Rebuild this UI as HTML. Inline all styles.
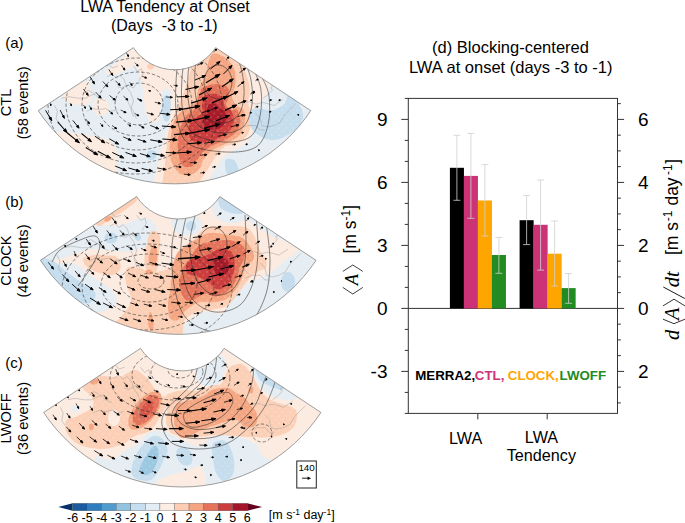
<!DOCTYPE html><html><head><meta charset="utf-8"><style>html,body{margin:0;padding:0;background:#fff;width:685px;height:523px;overflow:hidden}svg{display:block}</style></head><body>
<svg width="685" height="523" viewBox="0 0 685 523" font-family="Liberation Sans, sans-serif">
<defs>
<clipPath id="fc0"><path d="M133.39,47.66 A49.30,49.30 0 0 0 215.61,47.66 L310.76,110.64 A163.40,163.40 0 0 1 38.24,110.64 Z"/></clipPath>
<clipPath id="fc1"><path d="M136.62,196.62 A49.86,49.86 0 0 0 219.78,196.62 L316.01,260.31 A165.26,165.26 0 0 1 40.39,260.31 Z"/></clipPath>
<clipPath id="fc2"><path d="M140.47,348.39 A50.17,50.17 0 0 0 224.13,348.39 L320.96,412.47 A166.28,166.28 0 0 1 43.64,412.47 Z"/></clipPath>
<pattern id="dots" width="7.2" height="7.2" patternUnits="userSpaceOnUse"><circle cx="1.8" cy="1.8" r="0.55" fill="#fff"/><circle cx="5.4" cy="5.4" r="0.55" fill="#fff"/></pattern>
<filter id="bl05" x="-5%" y="-5%" width="110%" height="110%"><feGaussianBlur stdDeviation="0.5"/></filter>
<filter id="bl1" x="-20%" y="-20%" width="140%" height="140%"><feGaussianBlur stdDeviation="1.2"/></filter>
<filter id="bl3" x="-30%" y="-30%" width="160%" height="160%"><feGaussianBlur stdDeviation="3"/></filter>
<marker id="ah" viewBox="0 0 10 10" refX="8" refY="5" markerWidth="3.2" markerHeight="3.2" orient="auto" markerUnits="strokeWidth"><path d="M0,1 L10,5 L0,9 Z" fill="#000"/></marker>
</defs>
<text x="165" y="11.7" font-size="16" text-anchor="middle">LWA Tendency at Onset</text>
<text x="164.3" y="30.7" font-size="16" text-anchor="middle" xml:space="preserve">(Days  -3 to -1)</text>
<text x="5.2" y="47.9" font-size="15">(a)</text>
<text x="5.2" y="207.2" font-size="15">(b)</text>
<text x="5.2" y="367.7" font-size="15">(c)</text>
<text transform="translate(11.2,102.4) rotate(-90)" font-size="14.6" text-anchor="middle">CTL</text>
<text transform="translate(28.2,102.85) rotate(-90)" font-size="14.6" text-anchor="middle">(58 events)</text>
<text transform="translate(11.2,260.6) rotate(-90)" font-size="14.6" text-anchor="middle">CLOCK</text>
<text transform="translate(28.2,261) rotate(-90)" font-size="14.6" text-anchor="middle">(46 events)</text>
<text transform="translate(11.2,418.4) rotate(-90)" font-size="14.6" text-anchor="middle">LWOFF</text>
<text transform="translate(28.2,418.5) rotate(-90)" font-size="14.6" text-anchor="middle">(36 events)</text>
<g clip-path="url(#fc0)">
<rect x="0" y="0" width="400" height="523" fill="#e6eef3"/>
<g filter="url(#bl05)">
<path d="M61.8,94.8 C62.6,93.0 66.8,91.3 69.4,89.6 C72.0,87.8 74.5,85.7 77.5,84.3 C80.5,82.9 85.5,80.4 87.6,81.0 C89.6,81.6 89.1,84.6 89.8,87.8 C90.5,91.0 92.3,97.1 91.5,100.0 C90.7,102.9 87.1,104.2 85.0,105.0 C82.9,105.8 81.4,105.1 79.0,104.9 C76.6,104.7 72.9,104.4 70.5,103.6 C68.1,102.8 66.2,101.6 64.7,100.1 C63.2,98.6 61.0,96.5 61.8,94.8Z" fill="#fcebe1"/>
<path d="M93.3,101.8 C94.5,99.5 99.7,98.3 102.0,98.3 C104.3,98.3 106.1,99.8 107.3,101.8 C108.5,103.8 109.9,108.3 109.0,110.6 C108.1,112.9 104.3,115.5 102.0,115.8 C99.7,116.1 96.5,114.6 95.0,112.3 C93.5,110.0 92.1,104.1 93.3,101.8Z" fill="#fcebe1"/>
<path d="M106.0,72.0 C106.5,70.0 112.5,66.2 116.0,63.0 C119.5,59.8 124.0,56.2 127.0,53.0 C130.0,49.8 131.7,44.5 134.0,44.0 C136.3,43.5 140.0,47.0 141.0,50.0 C142.0,53.0 141.8,58.8 140.0,61.7 C138.2,64.6 133.5,65.8 130.5,67.5 C127.5,69.2 124.7,70.7 121.8,71.9 C118.9,73.2 115.6,75.0 113.0,75.0 C110.4,75.0 105.5,74.0 106.0,72.0Z" fill="#fcebe1"/>
<path d="M56.0,132.0 C56.8,130.8 59.0,132.2 63.0,132.5 C67.0,132.8 73.8,133.2 80.0,134.0 C86.2,134.8 95.0,136.3 100.0,137.5 C105.0,138.7 107.3,138.9 110.0,141.0 C112.7,143.1 114.8,146.5 116.0,150.0 C117.2,153.5 117.5,157.7 117.5,162.0 C117.5,166.3 117.2,171.0 116.0,176.0 C114.8,181.0 114.3,189.3 110.0,192.0 C105.7,194.7 96.7,197.3 90.0,192.0 C83.3,186.7 75.3,168.7 70.0,160.0 C64.7,151.3 60.3,144.7 58.0,140.0 C55.7,135.3 55.2,133.2 56.0,132.0Z" fill="#fcebe1"/>
<path d="M133.0,40.0 C140.8,37.2 164.7,38.0 180.0,38.0 C195.3,38.0 210.7,33.3 225.0,40.0 C239.3,46.7 258.8,69.3 266.0,78.0 C273.2,86.7 268.7,88.3 268.0,92.0 C267.3,95.7 263.9,97.0 262.0,100.0 C260.1,103.0 257.6,105.7 256.4,110.0 C255.2,114.3 255.8,121.2 254.7,126.0 C253.6,130.8 252.3,135.4 249.9,138.9 C247.5,142.4 243.5,144.8 240.3,146.9 C237.1,149.1 233.6,149.9 230.7,151.8 C227.8,153.7 225.0,155.5 222.6,158.2 C220.2,160.9 218.3,164.6 216.2,167.8 C214.1,171.0 211.7,173.7 209.8,177.4 C207.9,181.1 213.8,187.9 205.0,190.0 C196.2,192.1 164.5,195.8 157.0,190.0 C149.5,184.2 159.0,163.0 160.0,155.0 C161.0,147.0 161.9,146.9 163.2,142.1 C164.5,137.3 166.9,131.3 168.0,126.0 C169.1,120.7 169.1,115.7 169.6,110.0 C170.1,104.3 172.1,95.3 171.0,92.0 C169.9,88.7 164.8,87.0 163.0,90.0 C161.2,93.0 160.8,104.8 160.0,110.0 C159.2,115.2 159.3,119.0 158.0,121.0 C156.7,123.0 154.0,123.2 152.0,122.0 C150.0,120.8 147.3,117.7 146.0,114.0 C144.7,110.3 144.7,104.8 144.0,100.0 C143.3,95.2 143.0,90.0 142.0,85.0 C141.0,80.0 139.5,75.0 138.0,70.0 C136.5,65.0 133.8,60.0 133.0,55.0 C132.2,50.0 125.2,42.8 133.0,40.0Z" fill="#fcebe1"/>
<path d="M185.0,40.0 C189.2,39.0 208.3,41.7 215.4,44.0 C222.5,46.3 223.2,50.4 227.4,53.6 C231.6,56.8 237.1,59.5 240.3,63.3 C243.5,67.0 245.1,71.5 246.7,76.1 C248.3,80.6 249.7,86.3 249.9,90.6 C250.1,94.9 248.0,98.6 248.0,101.8 C248.0,105.0 249.4,106.5 250.0,110.0 C250.6,113.5 252.1,118.5 251.5,122.8 C250.9,127.1 249.4,132.2 246.7,135.7 C244.0,139.2 239.2,141.8 235.5,143.7 C231.8,145.6 227.7,144.5 224.2,146.9 C220.7,149.3 217.5,154.2 214.6,158.2 C211.7,162.2 209.0,167.2 206.6,171.0 C204.2,174.8 202.5,177.5 200.1,180.7 C197.7,183.9 198.0,188.4 192.1,190.0 C186.2,191.6 169.4,194.0 164.8,190.0 C160.2,186.0 164.5,172.8 164.8,166.2 C165.1,159.5 165.9,155.5 166.4,150.1 C166.9,144.7 167.1,139.0 168.0,134.0 C168.9,129.0 170.5,124.3 172.0,120.0 C173.5,115.7 175.2,112.2 177.0,108.0 C178.8,103.8 181.2,99.7 183.0,95.0 C184.8,90.3 186.7,84.8 188.0,80.0 C189.3,75.2 190.7,71.0 191.0,66.0 C191.3,61.0 191.0,54.3 190.0,50.0 C189.0,45.7 180.8,41.0 185.0,40.0Z" fill="#fcd0b6"/>
<path d="M211.4,55.0 C214.6,51.8 220.4,54.8 224.2,57.0 C227.9,59.2 232.0,63.6 233.9,68.1 C235.8,72.6 235.8,79.3 235.5,84.1 C235.2,88.9 231.8,93.3 232.0,97.0 C232.2,100.7 235.1,103.8 237.0,106.0 C238.9,108.2 242.2,107.7 243.5,110.0 C244.8,112.3 245.6,115.6 245.1,119.6 C244.6,123.6 243.0,130.3 240.3,134.1 C237.6,137.8 233.6,139.4 229.0,142.1 C224.4,144.8 217.3,147.1 213.0,150.1 C208.7,153.1 205.6,156.9 203.4,159.8 C201.2,162.8 202.0,165.4 200.1,167.8 C198.2,170.2 195.3,173.1 192.1,174.2 C188.9,175.3 184.1,175.8 180.9,174.2 C177.7,172.6 174.7,168.6 172.8,164.6 C170.9,160.6 169.6,156.5 169.6,150.1 C169.6,143.7 171.4,131.9 172.8,126.0 C174.2,120.1 175.5,117.8 178.0,114.8 C180.5,111.8 185.1,110.2 188.0,108.0 C190.9,105.8 193.6,105.0 195.3,101.8 C197.1,98.6 196.9,93.3 198.5,89.0 C200.1,84.7 202.8,81.8 205.0,76.1 C207.2,70.4 208.2,58.2 211.4,55.0Z" fill="#f5a683"/>
<path d="M203.4,87.4 C206.1,86.1 212.2,84.1 216.2,84.1 C220.2,84.1 225.3,85.2 227.4,87.4 C229.5,89.6 229.2,94.1 229.0,97.0 C228.8,99.9 225.5,102.8 226.0,105.0 C226.5,107.2 230.2,109.2 232.0,110.0 C233.8,110.8 235.7,107.9 237.1,110.0 C238.5,112.1 240.6,119.0 240.3,122.8 C240.0,126.5 238.2,129.6 235.5,132.5 C232.8,135.4 227.9,138.4 224.2,140.5 C220.4,142.6 216.5,143.4 213.0,145.3 C209.5,147.2 205.8,149.7 203.4,151.8 C201.0,154.0 200.4,155.8 198.5,158.2 C196.6,160.6 194.5,164.9 192.1,166.2 C189.7,167.5 186.2,167.5 184.1,166.2 C182.0,164.9 180.4,162.2 179.3,158.2 C178.2,154.2 177.4,147.5 177.7,142.1 C178.0,136.7 179.6,130.3 180.9,126.0 C182.2,121.7 183.5,119.1 185.7,116.4 C187.9,113.7 192.1,112.4 194.0,110.0 C195.9,107.6 196.0,104.8 197.0,101.8 C198.0,98.8 199.0,94.6 200.1,92.2 C201.2,89.8 200.7,88.8 203.4,87.4Z" fill="#e3735a"/>
<path d="M205.0,95.4 C207.1,94.6 213.3,93.3 216.2,93.8 C219.1,94.3 221.3,96.7 222.6,98.6 C223.9,100.5 223.5,103.1 224.2,105.0 C224.9,106.9 225.9,109.2 227.0,110.0 C228.1,110.8 229.5,108.4 230.7,110.0 C231.8,111.6 233.9,116.4 233.9,119.6 C233.9,122.8 232.6,126.6 230.7,129.3 C228.8,132.0 225.5,133.8 222.6,135.7 C219.7,137.6 216.2,139.4 213.0,140.5 C209.8,141.6 206.9,142.1 203.4,142.1 C199.9,142.1 194.5,141.8 192.1,140.5 C189.7,139.2 189.4,136.5 188.9,134.1 C188.4,131.7 188.4,128.4 188.9,126.0 C189.4,123.6 189.9,121.7 192.1,119.6 C194.2,117.5 200.2,115.6 201.8,113.2 C203.5,110.8 201.7,107.4 202.0,105.0 C202.3,102.6 202.9,100.2 203.4,98.6 C203.9,97.0 202.9,96.2 205.0,95.4Z" fill="#cc3d3e"/>
<path d="M154.0,66.5 C154.0,66.9 153.9,67.3 153.7,67.6 C153.6,68.0 153.3,68.4 153.0,68.6 C152.7,68.9 152.3,69.1 151.8,69.3 C151.4,69.4 150.9,69.5 150.5,69.5 C150.1,69.5 149.6,69.4 149.2,69.3 C148.7,69.1 148.3,68.9 148.0,68.6 C147.7,68.4 147.4,68.0 147.3,67.6 C147.1,67.3 147.0,66.9 147.0,66.5 C147.0,66.1 147.1,65.7 147.3,65.4 C147.4,65.0 147.7,64.6 148.0,64.4 C148.3,64.1 148.7,63.9 149.2,63.7 C149.6,63.6 150.1,63.5 150.5,63.5 C150.9,63.5 151.4,63.6 151.8,63.7 C152.3,63.9 152.7,64.1 153.0,64.4 C153.3,64.6 153.6,65.0 153.7,65.4 C153.9,65.7 154.0,66.1 154.0,66.5Z" fill="#fcd0b6"/>
<path d="M208.2,105.0 C209.5,103.6 212.7,102.9 214.6,103.4 C216.5,103.9 217.8,106.9 219.4,108.2 C221.0,109.5 223.1,109.1 224.2,111.0 C225.3,112.9 226.3,116.8 225.8,119.6 C225.3,122.4 223.7,126.1 221.0,127.7 C218.3,129.3 212.7,129.8 209.8,129.3 C206.9,128.8 204.5,126.4 203.4,124.5 C202.3,122.6 202.8,120.1 203.4,118.0 C204.0,115.9 206.2,114.2 207.0,112.0 C207.8,109.8 206.9,106.4 208.2,105.0Z" fill="#a81a2c"/>
<path d="M163.0,98.0 C163.8,96.5 165.8,94.7 167.0,95.0 C168.2,95.3 169.9,97.2 170.5,100.0 C171.1,102.8 170.8,108.7 170.5,112.0 C170.2,115.3 169.9,118.5 169.0,120.0 C168.1,121.5 166.1,122.0 165.0,121.0 C163.9,120.0 162.9,116.8 162.5,114.0 C162.1,111.2 162.4,106.7 162.5,104.0 C162.6,101.3 162.2,99.5 163.0,98.0Z" fill="#c6ddee"/>
<path d="M147.0,153.0 C147.7,151.7 149.5,150.2 151.0,150.0 C152.5,149.8 155.2,150.8 156.0,152.0 C156.8,153.2 156.7,155.7 156.0,157.0 C155.3,158.3 153.5,159.8 152.0,160.0 C150.5,160.2 147.8,159.2 147.0,158.0 C146.2,156.8 146.3,154.3 147.0,153.0Z" fill="#c6ddee"/>
<path d="M249.6,112.9 C250.6,110.5 251.5,109.1 255.3,108.6 C259.1,108.1 267.8,110.8 272.6,110.1 C277.4,109.4 281.4,106.7 284.0,104.3 C286.6,101.9 285.9,95.9 288.3,95.7 C290.7,95.5 295.9,99.1 298.4,102.9 C300.8,106.7 304.2,113.7 303.0,118.7 C301.8,123.7 296.3,129.4 291.2,133.0 C286.1,136.6 278.6,140.2 272.6,140.2 C266.6,140.2 259.1,135.9 255.3,133.0 C251.5,130.1 250.6,126.3 249.6,123.0 C248.6,119.7 248.6,115.3 249.6,112.9Z" fill="#c6ddee"/>
<path d="M225.8,159.8 C226.8,158.5 229.4,158.7 231.0,159.0 C232.6,159.3 234.2,159.4 235.5,161.4 C236.8,163.4 239.0,168.6 238.7,171.0 C238.4,173.4 235.8,175.3 233.9,175.8 C232.0,176.3 228.9,175.7 227.4,174.2 C225.9,172.7 225.3,169.4 225.0,167.0 C224.7,164.6 224.8,161.1 225.8,159.8Z" fill="#c6ddee"/>
</g>
<g fill="none" stroke="#9a9a9a" stroke-width="0.45" stroke-linejoin="round">
<path d="M243.4,102.5 L249.5,101.8 L255.6,104.1 L263.2,102.5 L269.4,104.1 L274.0,105.6 L278.5,102.5 L283.1,99.5"/>
<path d="M263.2,98.0 L267.8,94.9 L272.4,90.3 L270.9,87.2 L275.5,84.2 L279.0,86.0 L283.0,83.0"/>
<path d="M255.6,113.2 L260.2,117.8 L261.7,125.5 L267.8,127.0 L274.0,125.5 L280.1,122.4 L284.7,114.8 L289.2,110.2 L295.4,104.1"/>
<path d="M240.3,128.5 L247.9,125.5 L255.6,125.5 L260.2,130.1 L264.8,130.1"/>
<path d="M82.7,94.1 L88.0,90.1 L94.7,94.1 L98.7,98.2 L105.4,100.8"/>
<path d="M106.8,76.8 L112.1,74.1 L116.1,78.1 L120.1,75.4 L124.1,79.4 L126.8,87.5 L130.8,92.8 L133.5,100.8 L130.8,108.9 L133.5,116.9"/>
<path d="M133.5,66.1 L137.5,71.4 L141.5,68.7 L142.9,74.1 L138.9,80.8"/>
<path d="M61.9,98.2 L69.2,96.7 L78.0,98.2 L85.3,98.2 L91.1,95.3 L95.5,93.8"/>
<path d="M54.6,105.5 L57.5,111.3 L56.1,118.6 L59.0,123.0"/>
<path d="M86.7,111.3 L92.6,108.4 L98.4,109.9 L105.7,108.4 L110.1,111.3 L117.4,109.9"/>
<path d="M117.4,86.5 L121.8,88.0 L127.6,85.0 L133.4,88.0 L136.4,83.6"/>
<path d="M127.6,101.1 L130.5,106.9 L133.4,111.3 L136.4,118.6"/>
<path d="M100.0,62.0 L104.0,66.0 L109.0,64.0 L112.0,68.0 L118.0,66.0"/>
<path d="M145.0,58.0 L150.0,62.0 L156.0,60.0 L160.0,65.0"/>
<path d="M232.0,118.0 L236.0,122.0 L240.0,120.0 L244.0,124.0"/>
</g>
<g fill="url(#dots)" opacity="0.75">
<path d="M172.0,45.0 C175.0,42.0 182.7,42.2 190.0,42.0 C197.3,41.8 209.3,41.3 216.0,44.0 C222.7,46.7 225.8,54.3 230.0,58.0 C234.2,61.7 238.2,62.3 241.0,66.0 C243.8,69.7 245.5,74.8 247.0,80.0 C248.5,85.2 250.2,91.7 250.0,97.0 C249.8,102.3 246.7,105.0 246.0,112.0 C245.3,119.0 247.7,133.7 246.0,139.0 C244.3,144.3 240.6,141.5 236.0,144.0 C231.4,146.5 223.3,150.0 218.5,154.0 C213.7,158.0 210.6,164.0 207.0,168.0 C203.4,172.0 199.8,174.0 197.0,178.0 C194.2,182.0 195.2,189.7 190.0,192.0 C184.8,194.3 170.0,195.7 166.0,192.0 C162.0,188.3 165.3,177.0 166.0,170.0 C166.7,163.0 168.8,155.8 170.0,150.0 C171.2,144.2 172.3,140.0 173.0,135.0 C173.7,130.0 173.8,125.8 174.0,120.0 C174.2,114.2 174.1,106.7 174.0,100.0 C173.9,93.3 173.8,86.7 173.5,80.0 C173.2,73.3 172.2,65.8 172.0,60.0 C171.8,54.2 169.0,48.0 172.0,45.0Z"/>
<path d="M249.6,108.0 C250.8,104.8 251.5,104.3 255.3,104.0 C259.1,103.7 267.8,106.7 272.6,106.0 C277.4,105.3 281.4,102.3 284.0,100.0 C286.6,97.7 285.6,92.0 288.3,92.0 C291.0,92.0 297.2,95.5 300.0,100.0 C302.8,104.5 306.5,112.7 305.0,118.7 C303.5,124.7 296.6,131.9 291.2,136.0 C285.8,140.1 278.6,143.0 272.6,143.0 C266.6,143.0 259.4,139.3 255.3,136.0 C251.2,132.7 248.9,127.7 248.0,123.0 C247.1,118.3 248.4,111.2 249.6,108.0Z"/>
</g>
<g fill="none" stroke="#2a2a2a" stroke-width="0.55">
<path d="M163.0,104.0 C163.0,106.2 162.6,108.4 161.8,110.5 C161.1,112.5 159.9,114.6 158.4,116.3 C157.0,118.1 155.1,119.7 153.1,121.0 C151.1,122.3 148.8,123.3 146.4,124.0 C144.1,124.6 141.5,125.0 139.0,125.0 C136.5,125.0 133.9,124.6 131.6,124.0 C129.2,123.3 126.9,122.3 124.9,121.0 C122.9,119.7 121.0,118.1 119.6,116.3 C118.1,114.6 116.9,112.5 116.2,110.5 C115.4,108.4 115.0,106.2 115.0,104.0 C115.0,101.8 115.4,99.6 116.2,97.5 C116.9,95.5 118.1,93.4 119.6,91.7 C121.0,89.9 122.9,88.3 124.9,87.0 C126.9,85.7 129.2,84.7 131.6,84.0 C133.9,83.4 136.5,83.0 139.0,83.0 C141.5,83.0 144.1,83.4 146.4,84.0 C148.8,84.7 151.1,85.7 153.1,87.0 C155.1,88.3 157.0,89.9 158.4,91.7 C159.9,93.4 161.1,95.5 161.8,97.5 C162.6,99.6 163.0,101.8 163.0,104.0Z" stroke-dasharray="3.4,2"/>
<path d="M178.0,104.0 C178.0,106.8 177.5,109.6 176.6,112.3 C175.7,114.9 174.4,117.6 172.6,120.0 C170.9,122.4 168.7,124.7 166.3,126.6 C163.8,128.6 161.0,130.3 158.0,131.7 C155.0,133.1 151.7,134.2 148.4,134.9 C145.0,135.6 141.5,136.0 138.0,136.0 C134.5,136.0 131.0,135.6 127.6,134.9 C124.3,134.2 121.0,133.1 118.0,131.7 C115.0,130.3 112.2,128.6 109.7,126.6 C107.3,124.7 105.1,122.4 103.4,120.0 C101.6,117.6 100.3,114.9 99.4,112.3 C98.5,109.6 98.0,106.8 98.0,104.0 C98.0,101.2 98.5,98.4 99.4,95.7 C100.3,93.1 101.6,90.4 103.4,88.0 C105.1,85.6 107.3,83.3 109.7,81.4 C112.2,79.4 115.0,77.7 118.0,76.3 C121.0,74.9 124.3,73.8 127.6,73.1 C131.0,72.4 134.5,72.0 138.0,72.0 C141.5,72.0 145.0,72.4 148.4,73.1 C151.7,73.8 155.0,74.9 158.0,76.3 C161.0,77.7 163.8,79.4 166.3,81.4 C168.7,83.3 170.9,85.6 172.6,88.0 C174.4,90.4 175.7,93.1 176.6,95.7 C177.5,98.4 178.0,101.2 178.0,104.0Z" stroke-dasharray="3.4,2"/>
<path d="M192.0,104.0 C192.0,107.4 191.5,110.9 190.6,114.2 C189.7,117.6 188.3,120.9 186.6,124.0 C184.8,127.0 182.5,130.0 180.0,132.7 C177.5,135.3 174.5,137.8 171.3,140.0 C168.1,142.1 164.5,144.0 160.9,145.4 C157.2,146.9 153.2,148.1 149.2,148.8 C145.3,149.6 141.1,150.0 137.0,150.0 C132.9,150.0 128.7,149.6 124.8,148.8 C120.8,148.1 116.8,146.9 113.1,145.4 C109.5,144.0 105.9,142.1 102.7,140.0 C99.5,137.8 96.5,135.3 94.0,132.7 C91.5,130.0 89.2,127.0 87.4,124.0 C85.7,120.9 84.3,117.6 83.4,114.2 C82.5,110.9 82.0,107.4 82.0,104.0 C82.0,100.6 82.5,97.1 83.4,93.8 C84.3,90.4 85.7,87.1 87.4,84.0 C89.2,81.0 91.5,78.0 94.0,75.3 C96.5,72.7 99.5,70.2 102.7,68.0 C105.9,65.9 109.5,64.0 113.1,62.6 C116.8,61.1 120.8,59.9 124.8,59.2 C128.7,58.4 132.9,58.0 137.0,58.0 C141.1,58.0 145.3,58.4 149.2,59.2 C153.2,59.9 157.2,61.1 160.9,62.6 C164.5,64.0 168.1,65.9 171.3,68.0 C174.5,70.2 177.5,72.7 180.0,75.3 C182.5,78.0 184.8,81.0 186.6,84.0 C188.3,87.1 189.7,90.4 190.6,93.8 C191.5,97.1 192.0,100.6 192.0,104.0Z" stroke-dasharray="3.4,2"/>
<path d="M206.0,104.0 C206.0,107.8 205.5,111.7 204.7,115.5 C203.8,119.3 202.4,123.0 200.7,126.6 C198.9,130.1 196.7,133.6 194.2,136.8 C191.7,140.0 188.7,143.0 185.5,145.7 C182.3,148.4 178.7,150.9 174.9,153.1 C171.1,155.2 167.0,157.0 162.8,158.5 C158.6,160.0 154.1,161.1 149.7,161.9 C145.2,162.6 140.6,163.0 136.0,163.0 C131.4,163.0 126.8,162.6 122.3,161.9 C117.9,161.1 113.4,160.0 109.2,158.5 C105.0,157.0 100.9,155.2 97.1,153.1 C93.3,150.9 89.7,148.4 86.5,145.7 C83.3,143.0 80.3,140.0 77.8,136.8 C75.3,133.6 73.1,130.1 71.3,126.6 C69.6,123.0 68.2,119.3 67.3,115.5 C66.5,111.7 66.0,107.8 66.0,104.0 C66.0,100.2 66.5,96.3 67.3,92.5 C68.2,88.7 69.6,85.0 71.3,81.4 C73.1,77.9 75.3,74.4 77.8,71.2 C80.3,68.0 83.3,65.0 86.5,62.3 C89.7,59.6 93.3,57.1 97.1,54.9 C100.9,52.8 105.0,51.0 109.2,49.5 C113.4,48.0 117.9,46.9 122.3,46.1 C126.8,45.4 131.4,45.0 136.0,45.0 C140.6,45.0 145.2,45.4 149.7,46.1 C154.1,46.9 158.6,48.0 162.8,49.5 C167.0,51.0 171.1,52.8 174.9,54.9 C178.7,57.1 182.3,59.6 185.5,62.3 C188.7,65.0 191.7,68.0 194.2,71.2 C196.7,74.4 198.9,77.9 200.7,81.4 C202.4,85.0 203.8,88.7 204.7,92.5 C205.5,96.3 206.0,100.2 206.0,104.0Z" stroke-dasharray="3.4,2"/>
<path d="M222.0,104.0 C222.0,108.1 221.6,112.2 220.7,116.2 C219.8,120.1 218.5,124.1 216.8,127.9 C215.0,131.7 212.9,135.5 210.3,139.0 C207.8,142.5 204.9,145.9 201.6,149.0 C198.4,152.1 194.8,155.0 190.9,157.6 C187.1,160.2 182.9,162.6 178.5,164.6 C174.1,166.6 169.5,168.4 164.8,169.8 C160.0,171.2 155.1,172.2 150.1,172.9 C145.1,173.6 140.0,174.0 135.0,174.0 C130.0,174.0 124.9,173.6 119.9,172.9 C114.9,172.2 110.0,171.2 105.2,169.8 C100.5,168.4 95.9,166.6 91.5,164.6 C87.1,162.6 82.9,160.2 79.1,157.6 C75.2,155.0 71.6,152.1 68.4,149.0 C65.1,145.9 62.2,142.5 59.7,139.0 C57.1,135.5 55.0,131.7 53.2,127.9 C51.5,124.1 50.2,120.1 49.3,116.2 C48.4,112.2 48.0,108.1 48.0,104.0 C48.0,99.9 48.4,95.8 49.3,91.8 C50.2,87.9 51.5,83.9 53.2,80.1 C55.0,76.3 57.1,72.5 59.7,69.0 C62.2,65.5 65.1,62.1 68.4,59.0 C71.6,55.9 75.2,53.0 79.1,50.4 C82.9,47.8 87.1,45.4 91.5,43.4 C95.9,41.4 100.5,39.6 105.2,38.2 C110.0,36.8 114.9,35.8 119.9,35.1 C124.9,34.4 130.0,34.0 135.0,34.0 C140.0,34.0 145.1,34.4 150.1,35.1 C155.1,35.8 160.0,36.8 164.8,38.2 C169.5,39.6 174.1,41.4 178.5,43.4 C182.9,45.4 187.1,47.8 190.9,50.4 C194.8,53.0 198.4,55.9 201.6,59.0 C204.9,62.1 207.8,65.5 210.3,69.0 C212.9,72.5 215.0,76.3 216.8,80.1 C218.5,83.9 219.8,87.9 220.7,91.8 C221.6,95.8 222.0,99.9 222.0,104.0Z" stroke-dasharray="3.4,2"/>
<path d="M232.0,82.0 C232.0,84.2 231.6,86.5 230.9,88.5 C230.3,90.5 229.2,92.5 227.9,94.0 C226.6,95.6 225.0,96.9 223.4,97.7 C221.7,98.5 219.8,99.0 218.0,99.0 C216.2,99.0 214.3,98.5 212.6,97.7 C211.0,96.9 209.4,95.6 208.1,94.0 C206.8,92.5 205.7,90.5 205.1,88.5 C204.4,86.5 204.0,84.2 204.0,82.0 C204.0,79.8 204.4,77.5 205.1,75.5 C205.7,73.5 206.8,71.5 208.1,70.0 C209.4,68.4 211.0,67.1 212.6,66.3 C214.3,65.5 216.2,65.0 218.0,65.0 C219.8,65.0 221.7,65.5 223.4,66.3 C225.0,67.1 226.6,68.4 227.9,70.0 C229.2,71.5 230.3,73.5 230.9,75.5 C231.6,77.5 232.0,79.8 232.0,82.0Z"/>
<path d="M199.0,44.0 C198.3,48.3 195.5,61.0 195.0,70.0 C194.5,79.0 194.3,90.2 196.0,98.0 C197.7,105.8 200.3,112.8 205.0,117.0 C209.7,121.2 218.3,123.5 224.0,123.0 C229.7,122.5 235.7,118.7 239.0,114.0 C242.3,109.3 243.5,102.0 244.0,95.0 C244.5,88.0 243.3,78.7 242.0,72.0 C240.7,65.3 237.0,57.8 236.0,55.0"/>
<path d="M193.0,44.0 C192.2,49.2 188.7,64.8 188.0,75.0 C187.3,85.2 187.2,96.5 189.0,105.0 C190.8,113.5 193.2,121.3 199.0,126.0 C204.8,130.7 216.5,133.0 224.0,133.0 C231.5,133.0 239.3,130.8 244.0,126.0 C248.7,121.2 250.8,111.7 252.0,104.0 C253.2,96.3 252.2,87.0 251.0,80.0 C249.8,73.0 246.0,65.0 245.0,62.0"/>
<path d="M187.0,44.0 C186.2,49.7 182.7,66.7 182.0,78.0 C181.3,89.3 181.0,102.7 183.0,112.0 C185.0,121.3 187.2,129.0 194.0,134.0 C200.8,139.0 214.7,141.5 224.0,142.0 C233.3,142.5 244.0,141.3 250.0,137.0 C256.0,132.7 258.2,123.8 260.0,116.0 C261.8,108.2 262.0,97.7 261.0,90.0 C260.0,82.3 255.2,73.3 254.0,70.0"/>
<path d="M180.0,46.0 C179.3,52.0 176.5,70.0 176.0,82.0 C175.5,94.0 174.8,107.7 177.0,118.0 C179.2,128.3 180.8,138.3 189.0,144.0 C197.2,149.7 214.8,151.5 226.0,152.0 C237.2,152.5 249.0,151.5 256.0,147.0 C263.0,142.5 265.8,133.5 268.0,125.0 C270.2,116.5 270.0,104.0 269.0,96.0 C268.0,88.0 263.2,80.2 262.0,77.0"/>
</g>
<g stroke="#000" fill="#000" stroke-linecap="butt">
<line x1="45.6" y1="110.4" x2="50.2" y2="118.1" stroke-width="0.97"/><path d="M51.8,120.7 L48.9,118.3 L51.0,117.1Z"/>
<line x1="60.1" y1="110.0" x2="63.3" y2="116.3" stroke-width="0.84"/><path d="M64.4,118.4 L62.2,116.3 L64.0,115.4Z"/>
<line x1="57.7" y1="121.8" x2="64.8" y2="130.0" stroke-width="1.08"/><path d="M67.1,132.7 L63.4,130.5 L65.5,128.7Z"/>
<line x1="67.1" y1="132.7" x2="76.4" y2="140.4" stroke-width="1.15"/><path d="M79.5,142.9 L75.1,141.2 L77.0,138.9Z"/>
<line x1="72.8" y1="120.4" x2="77.5" y2="126.2" stroke-width="0.87"/><path d="M79.1,128.2 L76.4,126.6 L78.1,125.2Z"/>
<line x1="81.5" y1="133.5" x2="89.0" y2="139.7" stroke-width="1.01"/><path d="M91.5,141.8 L87.8,140.4 L89.4,138.4Z"/>
<line x1="85.8" y1="119.1" x2="88.6" y2="122.6" stroke-width="0.68"/><path d="M89.5,123.8 L87.6,122.8 L88.9,121.7Z"/>
<line x1="94.9" y1="136.2" x2="102.4" y2="141.2" stroke-width="0.97"/><path d="M104.9,142.9 L101.3,142.0 L102.7,139.9Z"/>
<line x1="85.8" y1="147.5" x2="94.8" y2="153.1" stroke-width="1.07"/><path d="M97.8,155.0 L93.7,154.0 L95.1,151.7Z"/>
<line x1="97.8" y1="151.2" x2="107.4" y2="156.4" stroke-width="1.08"/><path d="M110.6,158.1 L106.3,157.4 L107.6,154.9Z"/>
<line x1="50.0" y1="103.0" x2="50.8" y2="105.0" stroke-width="0.60"/><path d="M51.0,105.7 L50.0,104.8 L51.2,104.3Z"/>
<line x1="70.1" y1="103.0" x2="71.2" y2="105.0" stroke-width="0.60"/><path d="M71.5,105.7 L70.3,104.9 L71.5,104.3Z"/>
<line x1="83.5" y1="105.0" x2="85.0" y2="107.5" stroke-width="0.60"/><path d="M85.5,108.4 L84.1,107.5 L85.4,106.8Z"/>
<line x1="89.4" y1="105.6" x2="90.9" y2="108.6" stroke-width="0.61"/><path d="M91.4,109.6 L90.0,108.5 L91.3,107.8Z"/>
<line x1="100.2" y1="123.1" x2="102.2" y2="125.7" stroke-width="0.60"/><path d="M102.9,126.5 L101.3,125.7 L102.5,124.8Z"/>
<line x1="126.2" y1="52.3" x2="127.9" y2="55.6" stroke-width="0.63"/><path d="M128.5,56.7 L127.0,55.5 L128.4,54.8Z"/>
<line x1="121.5" y1="65.4" x2="124.0" y2="68.9" stroke-width="0.67"/><path d="M124.9,70.1 L123.1,69.0 L124.4,68.0Z"/>
<line x1="108.8" y1="69.4" x2="111.8" y2="74.0" stroke-width="0.74"/><path d="M112.8,75.5 L110.8,74.1 L112.3,73.1Z"/>
<line x1="90.1" y1="76.8" x2="93.4" y2="82.1" stroke-width="0.79"/><path d="M94.5,83.9 L92.3,82.2 L94.0,81.2Z"/>
<line x1="102.8" y1="81.5" x2="106.6" y2="85.5" stroke-width="0.75"/><path d="M107.9,86.8 L105.6,85.8 L106.9,84.5Z"/>
<line x1="115.5" y1="80.8" x2="119.0" y2="84.3" stroke-width="0.71"/><path d="M120.2,85.5 L118.0,84.6 L119.3,83.3Z"/>
<line x1="129.5" y1="82.1" x2="131.5" y2="84.7" stroke-width="0.60"/><path d="M132.2,85.5 L130.6,84.7 L131.8,83.8Z"/>
<line x1="134.9" y1="62.7" x2="137.4" y2="65.2" stroke-width="0.62"/><path d="M138.2,66.1 L136.5,65.4 L137.6,64.4Z"/>
<line x1="83.4" y1="89.2" x2="87.1" y2="93.9" stroke-width="0.78"/><path d="M88.3,95.5 L86.0,94.1 L87.5,92.9Z"/>
<line x1="95.8" y1="92.2" x2="99.9" y2="96.7" stroke-width="0.78"/><path d="M101.2,98.2 L98.8,97.0 L100.2,95.7Z"/>
<line x1="109.5" y1="95.5" x2="114.0" y2="99.0" stroke-width="0.76"/><path d="M115.5,100.2 L113.0,99.5 L114.2,98.0Z"/>
<line x1="123.5" y1="96.2" x2="126.8" y2="99.2" stroke-width="0.68"/><path d="M127.9,100.2 L125.9,99.5 L127.0,98.2Z"/>
<line x1="137.6" y1="98.2" x2="140.6" y2="100.2" stroke-width="0.63"/><path d="M141.6,100.9 L139.8,100.6 L140.6,99.3Z"/>
<line x1="108.7" y1="110.7" x2="111.7" y2="113.2" stroke-width="0.65"/><path d="M112.7,114.1 L110.8,113.5 L111.8,112.3Z"/>
<line x1="120.7" y1="110.0" x2="124.8" y2="112.0" stroke-width="0.68"/><path d="M126.1,112.7 L123.9,112.6 L124.7,111.0Z"/>
<line x1="134.8" y1="113.4" x2="137.8" y2="115.2" stroke-width="0.62"/><path d="M138.8,115.8 L137.0,115.6 L137.8,114.3Z"/>
<line x1="146.8" y1="112.7" x2="151.8" y2="114.2" stroke-width="0.73"/><path d="M153.5,114.7 L151.1,114.9 L151.6,113.2Z"/>
<line x1="159.6" y1="113.2" x2="167.5" y2="114.2" stroke-width="0.90"/><path d="M170.1,114.6 L166.8,115.3 L167.1,113.1Z"/>
<line x1="170.1" y1="109.8" x2="179.8" y2="109.3" stroke-width="1.01"/><path d="M183.0,109.1 L179.3,110.6 L179.2,108.0Z"/>
<line x1="183.0" y1="109.1" x2="195.9" y2="106.8" stroke-width="1.22"/><path d="M200.2,106.0 L195.7,108.4 L195.1,105.3Z"/>
<line x1="154.8" y1="102.2" x2="159.1" y2="103.2" stroke-width="0.68"/><path d="M160.5,103.6 L158.4,103.9 L158.8,102.3Z"/>
<line x1="112.0" y1="125.4" x2="115.5" y2="128.0" stroke-width="0.67"/><path d="M116.7,128.8 L114.6,128.3 L115.6,127.0Z"/>
<line x1="127.4" y1="124.1" x2="130.0" y2="125.6" stroke-width="0.60"/><path d="M130.8,126.1 L129.2,126.0 L129.9,124.7Z"/>
<line x1="138.8" y1="124.8" x2="142.8" y2="127.3" stroke-width="0.69"/><path d="M144.1,128.1 L141.9,127.7 L142.8,126.3Z"/>
<line x1="150.2" y1="125.4" x2="156.7" y2="128.0" stroke-width="0.84"/><path d="M158.9,128.8 L155.9,128.8 L156.6,126.8Z"/>
<line x1="161.9" y1="126.1" x2="172.3" y2="126.8" stroke-width="1.05"/><path d="M175.8,127.0 L171.7,128.1 L171.9,125.4Z"/>
<line x1="175.8" y1="122.2" x2="188.7" y2="120.8" stroke-width="1.21"/><path d="M193.0,120.3 L188.4,122.4 L188.0,119.3Z"/>
<line x1="193.0" y1="120.3" x2="205.8" y2="117.4" stroke-width="1.22"/><path d="M210.0,116.5 L205.6,119.1 L204.9,116.0Z"/>
<line x1="109.3" y1="138.8" x2="116.3" y2="142.8" stroke-width="0.91"/><path d="M118.7,144.2 L115.3,143.6 L116.5,141.6Z"/>
<line x1="123.2" y1="136.9" x2="129.2" y2="139.5" stroke-width="0.81"/><path d="M131.2,140.3 L128.3,140.2 L129.1,138.3Z"/>
<line x1="137.6" y1="139.2" x2="144.1" y2="141.3" stroke-width="0.83"/><path d="M146.2,142.0 L143.3,142.1 L143.9,140.2Z"/>
<line x1="150.2" y1="139.8" x2="159.2" y2="141.4" stroke-width="0.97"/><path d="M162.2,142.0 L158.5,142.6 L158.9,140.1Z"/>
<line x1="162.4" y1="139.0" x2="173.5" y2="139.7" stroke-width="1.10"/><path d="M177.2,139.9 L172.9,141.1 L173.1,138.2Z"/>
<line x1="173.9" y1="134.6" x2="186.0" y2="133.5" stroke-width="1.16"/><path d="M190.1,133.2 L185.7,135.1 L185.4,132.1Z"/>
<line x1="190.1" y1="133.2" x2="205.6" y2="130.2" stroke-width="1.35"/><path d="M210.0,129.4 L205.4,132.1 L204.8,128.6Z"/>
<line x1="112.3" y1="152.4" x2="120.9" y2="156.7" stroke-width="1.00"/><path d="M123.8,158.1 L119.9,157.6 L121.0,155.3Z"/>
<line x1="125.5" y1="152.4" x2="133.7" y2="155.4" stroke-width="0.95"/><path d="M136.4,156.4 L132.8,156.4 L133.6,154.1Z"/>
<line x1="139.9" y1="153.5" x2="147.6" y2="155.8" stroke-width="0.91"/><path d="M150.2,156.6 L146.8,156.8 L147.5,154.6Z"/>
<line x1="152.5" y1="153.5" x2="161.5" y2="155.2" stroke-width="0.97"/><path d="M164.5,155.8 L160.8,156.4 L161.2,153.9Z"/>
<line x1="165.7" y1="152.4" x2="173.4" y2="152.8" stroke-width="0.88"/><path d="M176.0,153.0 L172.9,153.9 L173.0,151.7Z"/>
<line x1="115.2" y1="166.1" x2="123.8" y2="169.5" stroke-width="0.98"/><path d="M126.7,170.7 L122.9,170.5 L123.8,168.2Z"/>
<line x1="128.4" y1="167.9" x2="137.0" y2="170.4" stroke-width="0.96"/><path d="M139.9,171.3 L136.2,171.5 L136.9,169.1Z"/>
<line x1="141.6" y1="168.4" x2="149.8" y2="170.4" stroke-width="0.93"/><path d="M152.5,171.1 L149.0,171.5 L149.6,169.2Z"/>
<line x1="157.1" y1="167.9" x2="163.9" y2="169.2" stroke-width="0.84"/><path d="M166.2,169.6 L163.2,170.1 L163.6,168.0Z"/>
<line x1="176.0" y1="153.0" x2="187.6" y2="152.2" stroke-width="1.13"/><path d="M191.5,152.0 L187.2,153.7 L187.0,150.8Z"/>
<line x1="200.1" y1="155.2" x2="205.3" y2="154.8" stroke-width="0.73"/><path d="M207.0,154.7 L204.8,155.8 L204.7,154.0Z"/>
<line x1="215.6" y1="154.1" x2="219.0" y2="153.7" stroke-width="0.62"/><path d="M220.2,153.5 L218.7,154.5 L218.5,153.0Z"/>
<line x1="189.8" y1="162.7" x2="195.0" y2="162.7" stroke-width="0.72"/><path d="M196.7,162.7 L194.5,163.6 L194.5,161.8Z"/>
<line x1="176.0" y1="166.7" x2="179.9" y2="166.9" stroke-width="0.64"/><path d="M181.2,167.0 L179.4,167.7 L179.4,166.1Z"/>
<line x1="184.0" y1="174.2" x2="188.7" y2="174.7" stroke-width="0.70"/><path d="M190.3,174.8 L188.1,175.5 L188.3,173.7Z"/>
<line x1="200.1" y1="173.0" x2="203.5" y2="172.6" stroke-width="0.62"/><path d="M204.7,172.5 L203.1,173.4 L203.0,171.9Z"/>
<line x1="212.1" y1="167.3" x2="214.7" y2="166.8" stroke-width="0.60"/><path d="M215.6,166.7 L214.3,167.6 L214.1,166.3Z"/>
<line x1="232.2" y1="144.9" x2="234.8" y2="144.5" stroke-width="0.60"/><path d="M235.7,144.3 L234.4,145.2 L234.2,143.9Z"/>
<line x1="187.5" y1="143.8" x2="198.2" y2="142.9" stroke-width="1.07"/><path d="M201.8,142.6 L197.8,144.3 L197.6,141.6Z"/>
<line x1="204.1" y1="143.2" x2="211.8" y2="142.1" stroke-width="0.89"/><path d="M214.4,141.7 L211.5,143.3 L211.2,141.0Z"/>
<line x1="217.9" y1="136.3" x2="224.3" y2="134.9" stroke-width="0.81"/><path d="M226.5,134.4 L224.1,136.0 L223.6,134.0Z"/>
<line x1="204.1" y1="128.1" x2="216.2" y2="125.1" stroke-width="1.18"/><path d="M220.2,124.1 L216.1,126.7 L215.3,123.7Z"/>
<line x1="230.9" y1="126.8" x2="236.9" y2="125.3" stroke-width="0.79"/><path d="M238.9,124.8 L236.7,126.4 L236.2,124.5Z"/>
<line x1="216.2" y1="120.7" x2="226.2" y2="116.7" stroke-width="1.07"/><path d="M229.5,115.4 L226.2,118.2 L225.2,115.6Z"/>
<line x1="224.9" y1="110.0" x2="233.4" y2="106.6" stroke-width="0.97"/><path d="M236.2,105.4 L233.4,107.9 L232.4,105.6Z"/>
<line x1="237.6" y1="116.7" x2="242.6" y2="115.2" stroke-width="0.73"/><path d="M244.3,114.7 L242.4,116.2 L241.9,114.5Z"/>
<line x1="202.1" y1="112.7" x2="208.0" y2="110.9" stroke-width="0.79"/><path d="M210.0,110.3 L207.8,112.0 L207.3,110.1Z"/>
<line x1="210.0" y1="110.3" x2="215.6" y2="108.1" stroke-width="0.78"/><path d="M217.5,107.4 L215.5,109.2 L214.8,107.4Z"/>
<line x1="165.8" y1="96.9" x2="170.8" y2="97.3" stroke-width="0.72"/><path d="M172.5,97.4 L170.3,98.1 L170.4,96.4Z"/>
<line x1="176.8" y1="96.9" x2="186.1" y2="96.5" stroke-width="0.98"/><path d="M189.2,96.4 L185.7,97.8 L185.5,95.3Z"/>
<line x1="191.1" y1="103.1" x2="203.2" y2="99.2" stroke-width="1.20"/><path d="M207.3,97.9 L203.2,100.8 L202.3,97.9Z"/>
<line x1="142.0" y1="76.1" x2="145.5" y2="77.6" stroke-width="0.64"/><path d="M146.7,78.1 L144.8,78.1 L145.4,76.7Z"/>
<line x1="148.0" y1="90.2" x2="150.0" y2="90.9" stroke-width="0.60"/><path d="M150.7,91.1 L149.3,91.3 L149.8,90.1Z"/>
<line x1="137.3" y1="98.9" x2="140.8" y2="100.4" stroke-width="0.64"/><path d="M142.0,100.9 L140.1,100.9 L140.7,99.5Z"/>
<line x1="173.5" y1="85.2" x2="176.5" y2="85.7" stroke-width="0.60"/><path d="M177.5,85.8 L175.9,86.3 L176.1,84.9Z"/>
<line x1="185.5" y1="89.5" x2="195.6" y2="87.3" stroke-width="1.04"/><path d="M198.9,86.6 L195.3,88.7 L194.8,86.1Z"/>
<line x1="194.9" y1="80.1" x2="202.9" y2="76.7" stroke-width="0.95"/><path d="M205.6,75.5 L202.9,78.0 L202.0,75.7Z"/>
<line x1="196.9" y1="65.4" x2="201.4" y2="63.4" stroke-width="0.71"/><path d="M202.9,62.7 L201.3,64.4 L200.6,62.8Z"/>
<line x1="213.4" y1="52.0" x2="215.9" y2="49.8" stroke-width="0.61"/><path d="M216.7,49.1 L216.0,50.7 L215.0,49.6Z"/>
<line x1="226.1" y1="60.1" x2="228.1" y2="57.6" stroke-width="0.60"/><path d="M228.8,56.7 L228.4,58.4 L227.2,57.5Z"/>
<line x1="210.7" y1="68.8" x2="217.7" y2="63.2" stroke-width="0.96"/><path d="M220.1,61.4 L218.1,64.5 L216.6,62.6Z"/>
<line x1="223.4" y1="74.1" x2="229.9" y2="67.6" stroke-width="0.98"/><path d="M232.1,65.4 L230.5,68.8 L228.7,67.0Z"/>
<line x1="239.5" y1="72.8" x2="244.0" y2="69.3" stroke-width="0.76"/><path d="M245.5,68.1 L244.2,70.3 L243.0,68.8Z"/>
<line x1="206.0" y1="82.8" x2="216.6" y2="76.3" stroke-width="1.18"/><path d="M220.1,74.1 L217.0,77.8 L215.3,75.2Z"/>
<line x1="222.1" y1="86.8" x2="230.6" y2="80.8" stroke-width="1.05"/><path d="M233.4,78.8 L230.9,82.2 L229.4,80.0Z"/>
<line x1="237.5" y1="86.6" x2="242.4" y2="82.9" stroke-width="0.79"/><path d="M244.1,81.7 L242.6,84.0 L241.5,82.4Z"/>
<line x1="255.5" y1="80.8" x2="257.5" y2="79.5" stroke-width="0.60"/><path d="M258.2,79.1 L257.5,80.3 L256.8,79.2Z"/>
<line x1="199.0" y1="94.9" x2="208.8" y2="89.7" stroke-width="1.09"/><path d="M212.0,88.0 L209.0,91.2 L207.6,88.7Z"/>
<line x1="212.0" y1="102.9" x2="224.1" y2="97.9" stroke-width="1.22"/><path d="M228.1,96.2 L224.2,99.5 L223.0,96.6Z"/>
<line x1="226.1" y1="97.5" x2="235.1" y2="93.0" stroke-width="1.03"/><path d="M238.1,91.5 L235.2,94.4 L234.1,92.0Z"/>
<line x1="250.2" y1="94.2" x2="253.7" y2="92.7" stroke-width="0.64"/><path d="M254.9,92.2 L253.6,93.6 L253.0,92.2Z"/>
<line x1="238.1" y1="103.6" x2="244.2" y2="101.6" stroke-width="0.80"/><path d="M246.2,100.9 L244.0,102.7 L243.4,100.8Z"/>
<line x1="224.7" y1="110.9" x2="233.8" y2="106.4" stroke-width="1.03"/><path d="M236.8,104.9 L233.9,107.8 L232.7,105.4Z"/>
<line x1="250.2" y1="100.5" x2="251.5" y2="100.3" stroke-width="0.60"/><path d="M252.0,100.2 L251.1,101.0 L250.9,99.8Z"/>
<line x1="251.0" y1="92.9" x2="253.7" y2="91.8" stroke-width="0.60"/><path d="M254.6,91.4 L253.5,92.6 L253.0,91.3Z"/>
<line x1="241.0" y1="102.2" x2="244.2" y2="101.4" stroke-width="0.61"/><path d="M245.3,101.1 L243.9,102.2 L243.6,100.8Z"/>
<line x1="255.3" y1="107.2" x2="257.5" y2="106.7" stroke-width="0.60"/><path d="M258.2,106.5 L257.1,107.4 L256.8,106.2Z"/>
<line x1="269.3" y1="100.8" x2="270.9" y2="100.0" stroke-width="0.60"/><path d="M271.5,99.8 L270.7,100.8 L270.2,99.7Z"/>
<line x1="278.3" y1="100.8" x2="279.9" y2="100.0" stroke-width="0.60"/><path d="M280.4,99.8 L279.7,100.8 L279.2,99.7Z"/>
<line x1="241.0" y1="116.0" x2="244.2" y2="115.3" stroke-width="0.61"/><path d="M245.3,115.1 L243.9,116.1 L243.6,114.7Z"/>
<line x1="249.6" y1="113.2" x2="251.0" y2="112.7" stroke-width="0.60"/><path d="M251.5,112.5 L250.8,113.4 L250.3,112.3Z"/>
<line x1="269.0" y1="112.2" x2="270.5" y2="111.7" stroke-width="0.60"/><path d="M271.0,111.5 L270.2,112.4 L269.8,111.3Z"/>
<line x1="241.0" y1="133.0" x2="242.9" y2="132.6" stroke-width="0.60"/><path d="M243.5,132.5 L242.5,133.3 L242.3,132.1Z"/>
<line x1="245.3" y1="144.5" x2="246.9" y2="144.3" stroke-width="0.60"/><path d="M247.5,144.2 L246.5,144.9 L246.4,143.7Z"/>
<line x1="258.2" y1="150.2" x2="259.2" y2="150.2" stroke-width="0.60"/><path d="M259.5,150.2 L258.7,150.8 L258.7,149.6Z"/>
<line x1="298.0" y1="114.0" x2="298.4" y2="115.1" stroke-width="0.60"/><path d="M298.5,115.5 L297.6,114.8 L298.8,114.4Z"/>
</g>
</g>
<path d="M133.39,47.66 A49.30,49.30 0 0 0 215.61,47.66 L310.76,110.64 A163.40,163.40 0 0 1 38.24,110.64 Z" fill="none" stroke="#777" stroke-width="0.7"/>
<g clip-path="url(#fc1)">
<rect x="0" y="0" width="400" height="523" fill="#fcebe1"/>
<g filter="url(#bl05)">
<path d="M36.0,258.0 C38.5,255.2 52.7,249.2 60.0,245.0 C67.3,240.8 74.2,236.2 80.0,233.0 C85.8,229.8 91.0,227.3 95.0,226.0 C99.0,224.7 100.7,225.0 104.0,225.0 C107.3,225.0 111.5,226.2 115.0,226.0 C118.5,225.8 121.7,225.0 125.0,224.0 C128.3,223.0 131.7,221.0 135.0,220.0 C138.3,219.0 142.0,217.7 145.0,218.0 C148.0,218.3 151.0,219.7 153.0,222.0 C155.0,224.3 157.2,228.3 157.0,232.0 C156.8,235.7 154.8,241.2 152.0,244.0 C149.2,246.8 144.2,247.7 140.0,249.0 C135.8,250.3 132.3,251.8 127.0,252.0 C121.7,252.2 113.8,250.5 108.0,250.0 C102.2,249.5 97.0,248.6 92.0,249.0 C87.0,249.4 82.0,251.2 78.0,252.5 C74.0,253.8 71.3,255.3 68.0,256.5 C64.7,257.7 61.8,258.6 58.0,259.5 C54.2,260.4 48.7,262.2 45.0,262.0 C41.3,261.8 33.5,260.8 36.0,258.0Z" fill="#e6eef3"/>
<path d="M38.0,263.0 C40.7,260.2 46.3,263.4 50.0,263.5 C53.7,263.6 56.7,263.6 60.0,263.5 C63.3,263.4 66.7,262.4 70.0,263.0 C73.3,263.6 77.0,265.2 80.0,267.0 C83.0,268.8 85.0,271.8 88.0,274.0 C91.0,276.2 94.3,277.5 98.0,280.0 C101.7,282.5 107.0,286.2 110.0,289.0 C113.0,291.8 115.3,294.2 116.0,297.0 C116.7,299.8 116.7,303.5 114.0,306.0 C111.3,308.5 105.7,311.0 100.0,312.0 C94.3,313.0 87.5,314.0 80.0,312.0 C72.5,310.0 62.7,305.3 55.0,300.0 C47.3,294.7 36.8,286.2 34.0,280.0 C31.2,273.8 35.3,265.8 38.0,263.0Z" fill="#e6eef3"/>
<path d="M117.5,238.0 C117.5,238.7 117.3,239.5 117.0,240.1 C116.7,240.8 116.2,241.4 115.6,241.9 C115.0,242.4 114.3,242.8 113.5,243.1 C112.7,243.3 111.8,243.5 111.0,243.5 C110.2,243.5 109.3,243.3 108.5,243.1 C107.7,242.8 107.0,242.4 106.4,241.9 C105.8,241.4 105.3,240.8 105.0,240.1 C104.7,239.5 104.5,238.7 104.5,238.0 C104.5,237.3 104.7,236.5 105.0,235.9 C105.3,235.2 105.8,234.6 106.4,234.1 C107.0,233.6 107.7,233.2 108.5,232.9 C109.3,232.7 110.2,232.5 111.0,232.5 C111.8,232.5 112.7,232.7 113.5,232.9 C114.3,233.2 115.0,233.6 115.6,234.1 C116.2,234.6 116.7,235.2 117.0,235.9 C117.3,236.5 117.5,237.3 117.5,238.0Z" fill="#c6ddee"/>
<path d="M141.2,237.5 C141.2,237.9 141.1,238.3 141.0,238.7 C140.8,239.1 140.6,239.5 140.3,239.8 C140.0,240.1 139.6,240.3 139.2,240.5 C138.8,240.6 138.4,240.7 138.0,240.7 C137.6,240.7 137.2,240.6 136.8,240.5 C136.4,240.3 136.0,240.1 135.7,239.8 C135.4,239.5 135.2,239.1 135.0,238.7 C134.9,238.3 134.8,237.9 134.8,237.5 C134.8,237.1 134.9,236.7 135.0,236.3 C135.2,235.9 135.4,235.5 135.7,235.2 C136.0,234.9 136.4,234.7 136.8,234.5 C137.2,234.4 137.6,234.3 138.0,234.3 C138.4,234.3 138.8,234.4 139.2,234.5 C139.6,234.7 140.0,234.9 140.3,235.2 C140.6,235.5 140.8,235.9 141.0,236.3 C141.1,236.7 141.2,237.1 141.2,237.5Z" fill="#c6ddee"/>
<path d="M38.0,256.0 C39.3,254.0 41.3,257.1 44.0,258.0 C46.7,258.9 50.6,259.3 54.2,261.5 C57.8,263.7 61.0,267.7 65.6,271.2 C70.2,274.7 77.0,279.1 81.9,282.6 C86.8,286.1 93.0,289.4 94.9,292.4 C96.8,295.4 94.8,298.6 93.2,300.5 C91.6,302.4 88.9,304.2 85.1,303.7 C81.3,303.1 75.1,300.1 70.5,297.2 C65.9,294.2 61.6,288.9 57.5,286.0 C53.4,283.1 49.7,282.7 46.1,280.0 C42.5,277.3 37.4,274.0 36.0,270.0 C34.6,266.0 36.7,258.0 38.0,256.0Z" fill="#c6ddee"/>
<path d="M172.0,214.0 C174.2,212.5 180.5,214.3 185.0,215.0 C189.5,215.7 196.2,216.2 199.0,218.0 C201.8,219.8 202.5,223.3 202.0,226.0 C201.5,228.7 198.8,232.5 196.0,234.0 C193.2,235.5 188.3,235.3 185.0,235.0 C181.7,234.7 178.2,233.8 176.0,232.0 C173.8,230.2 172.7,227.0 172.0,224.0 C171.3,221.0 169.8,215.5 172.0,214.0Z" fill="#e6eef3"/>
<path d="M196.0,226.0 C196.0,226.6 195.9,227.3 195.6,227.9 C195.4,228.5 195.0,229.1 194.5,229.5 C194.1,230.0 193.5,230.4 192.9,230.6 C192.3,230.9 191.6,231.0 191.0,231.0 C190.4,231.0 189.7,230.9 189.1,230.6 C188.5,230.4 187.9,230.0 187.5,229.5 C187.0,229.1 186.6,228.5 186.4,227.9 C186.1,227.3 186.0,226.6 186.0,226.0 C186.0,225.4 186.1,224.7 186.4,224.1 C186.6,223.5 187.0,222.9 187.5,222.5 C187.9,222.0 188.5,221.6 189.1,221.4 C189.7,221.1 190.4,221.0 191.0,221.0 C191.6,221.0 192.3,221.1 192.9,221.4 C193.5,221.6 194.1,222.0 194.5,222.5 C195.0,222.9 195.4,223.5 195.6,224.1 C195.9,224.7 196.0,225.4 196.0,226.0Z" fill="#c6ddee"/>
<path d="M212.0,195.0 C213.3,191.7 215.3,191.2 222.0,194.0 C228.7,196.8 249.0,207.3 252.0,212.0 C255.0,216.7 244.5,220.3 240.0,222.0 C235.5,223.7 229.3,223.3 225.0,222.0 C220.7,220.7 216.2,218.5 214.0,214.0 C211.8,209.5 210.7,198.3 212.0,195.0Z" fill="#e6eef3"/>
<path d="M219.0,196.0 C220.7,194.8 225.5,197.8 230.0,200.0 C234.5,202.2 244.3,206.7 246.0,209.0 C247.7,211.3 243.0,213.5 240.0,214.0 C237.0,214.5 231.3,213.2 228.0,212.0 C224.7,210.8 221.5,209.7 220.0,207.0 C218.5,204.3 217.3,197.2 219.0,196.0Z" fill="#c6ddee"/>
<path d="M250.0,215.0 C238.0,219.3 254.6,222.6 258.0,226.0 C261.4,229.4 266.0,232.7 270.6,235.3 C275.2,237.9 281.3,238.9 285.9,241.4 C290.5,243.9 298.1,247.5 298.1,250.6 C298.1,253.7 289.7,256.8 285.9,259.8 C282.1,262.9 278.5,266.2 275.2,268.9 C271.9,271.6 270.2,273.8 266.0,276.0 C261.8,278.2 254.3,279.7 250.0,282.0 C245.7,284.3 243.2,286.7 240.0,290.0 C236.8,293.3 234.2,298.1 231.0,302.0 C227.8,305.9 225.5,312.0 221.0,313.7 C216.5,315.4 210.0,310.4 204.0,312.3 C198.0,314.2 189.8,319.8 185.0,325.2 C180.2,330.6 150.8,341.7 175.0,345.0 C199.2,348.3 304.2,369.2 330.0,345.0 C355.8,320.8 343.3,221.7 330.0,200.0 C316.7,178.3 262.0,210.7 250.0,215.0Z" fill="#e6eef3"/>
<path d="M295.0,282.0 C295.0,283.3 294.8,284.6 294.5,285.8 C294.1,287.0 293.6,288.2 292.9,289.1 C292.3,290.0 291.5,290.8 290.7,291.2 C289.9,291.7 288.9,292.0 288.0,292.0 C287.1,292.0 286.1,291.7 285.3,291.2 C284.5,290.8 283.7,290.0 283.1,289.1 C282.4,288.2 281.9,287.0 281.5,285.8 C281.2,284.6 281.0,283.3 281.0,282.0 C281.0,280.7 281.2,279.4 281.5,278.2 C281.9,277.0 282.4,275.8 283.1,274.9 C283.7,274.0 284.5,273.2 285.3,272.8 C286.1,272.3 287.1,272.0 288.0,272.0 C288.9,272.0 289.9,272.3 290.7,272.8 C291.5,273.2 292.3,274.0 292.9,274.9 C293.6,275.8 294.1,277.0 294.5,278.2 C294.8,279.4 295.0,280.7 295.0,282.0Z" fill="#c6ddee"/>
<path d="M96.0,222.0 C96.8,220.0 101.0,216.8 105.0,214.0 C109.0,211.2 115.3,208.2 120.0,205.0 C124.7,201.8 130.2,195.8 133.0,195.0 C135.8,194.2 138.3,197.5 137.0,200.0 C135.7,202.5 129.5,206.8 125.0,210.0 C120.5,213.2 114.2,216.3 110.0,219.0 C105.8,221.7 102.3,225.5 100.0,226.0 C97.7,226.5 95.2,224.0 96.0,222.0Z" fill="#fcd0b6"/>
<path d="M111.5,217.0 C111.6,217.2 111.7,217.6 111.6,217.9 C111.6,218.2 111.4,218.6 111.2,218.9 C111.0,219.3 110.7,219.7 110.3,220.0 C110.0,220.3 109.5,220.7 109.1,220.9 C108.7,221.2 108.2,221.4 107.7,221.5 C107.2,221.7 106.7,221.8 106.3,221.8 C105.9,221.8 105.5,221.7 105.2,221.6 C104.9,221.4 104.7,221.2 104.5,221.0 C104.4,220.8 104.3,220.4 104.4,220.1 C104.4,219.8 104.6,219.4 104.8,219.1 C105.0,218.7 105.3,218.3 105.7,218.0 C106.0,217.7 106.5,217.3 106.9,217.1 C107.3,216.8 107.8,216.6 108.3,216.5 C108.8,216.3 109.3,216.2 109.7,216.2 C110.1,216.2 110.5,216.3 110.8,216.4 C111.1,216.6 111.3,216.8 111.5,217.0Z" fill="#f5a683"/>
<path d="M83.5,258.2 C84.9,256.3 91.2,255.4 94.9,255.0 C98.7,254.6 102.5,255.2 106.0,255.5 C109.5,255.8 113.5,254.8 116.0,256.6 C118.5,258.4 121.1,263.4 120.8,266.4 C120.5,269.4 117.8,273.4 114.3,274.5 C110.8,275.6 104.3,274.2 99.7,272.9 C95.1,271.5 89.4,268.8 86.7,266.4 C84.0,263.9 82.1,260.1 83.5,258.2Z" fill="#fcd0b6"/>
<path d="M151.3,231.3 C153.6,229.6 158.8,231.9 159.9,236.5 C161.1,241.1 158.8,253.1 158.2,258.8 C157.6,264.5 158.2,268.6 156.5,270.9 C154.8,273.2 149.9,274.0 147.9,272.6 C145.9,271.2 144.7,266.6 144.4,262.3 C144.1,258.0 144.9,252.0 146.1,246.8 C147.2,241.6 149.0,233.0 151.3,231.3Z" fill="#fcd0b6"/>
<path d="M127.0,268.0 C129.3,265.5 136.2,267.3 140.0,268.0 C143.8,268.7 145.8,271.7 150.0,272.0 C154.2,272.3 160.3,271.7 165.0,270.0 C169.7,268.3 174.7,265.3 178.0,262.0 C181.3,258.7 182.2,254.0 185.0,250.0 C187.8,246.0 191.5,241.7 195.0,238.0 C198.5,234.3 201.1,230.0 205.8,228.0 C210.5,226.0 217.3,226.3 223.0,226.1 C228.7,225.8 235.6,226.0 240.0,226.5 C244.4,227.0 246.6,227.2 249.2,229.2 C251.8,231.2 253.5,234.8 255.3,238.4 C257.1,242.0 258.1,247.0 259.9,250.6 C261.7,254.2 265.0,257.0 266.0,259.8 C267.0,262.6 267.0,265.6 266.0,267.4 C265.0,269.2 262.4,269.0 259.9,270.5 C257.4,272.0 253.9,273.6 251.0,276.5 C248.1,279.4 246.1,283.1 242.3,287.9 C238.5,292.7 232.8,301.5 228.0,305.1 C223.2,308.7 218.5,308.4 213.7,309.4 C208.9,310.4 204.1,309.2 199.3,310.9 C194.5,312.6 189.1,314.6 185.0,319.5 C180.9,324.4 187.5,336.6 175.0,340.0 C162.5,343.4 120.0,342.8 110.0,340.0 C100.0,337.2 113.3,327.2 115.0,323.5 C116.7,319.8 117.8,320.8 120.0,318.0 C122.2,315.2 126.6,310.5 128.4,307.0 C130.2,303.5 131.4,301.0 131.0,297.0 C130.6,293.0 126.7,287.8 126.0,283.0 C125.3,278.2 124.7,270.5 127.0,268.0Z" fill="#fcd0b6"/>
<path d="M153.0,245.0 C154.4,243.7 156.4,247.2 157.0,250.0 C157.6,252.8 157.3,259.3 156.5,262.0 C155.7,264.7 153.3,266.7 152.0,266.0 C150.7,265.3 148.3,261.5 148.5,258.0 C148.7,254.5 151.6,246.3 153.0,245.0Z" fill="#f5a683"/>
<path d="M152.5,272.0 C152.5,272.3 152.4,272.7 152.2,273.0 C152.1,273.3 151.8,273.5 151.5,273.8 C151.2,274.0 150.8,274.2 150.3,274.3 C149.9,274.4 149.4,274.5 149.0,274.5 C148.6,274.5 148.1,274.4 147.7,274.3 C147.2,274.2 146.8,274.0 146.5,273.8 C146.2,273.5 145.9,273.3 145.8,273.0 C145.6,272.7 145.5,272.3 145.5,272.0 C145.5,271.7 145.6,271.3 145.8,271.0 C145.9,270.7 146.2,270.5 146.5,270.2 C146.8,270.0 147.2,269.8 147.7,269.7 C148.1,269.6 148.6,269.5 149.0,269.5 C149.4,269.5 149.9,269.6 150.3,269.7 C150.8,269.8 151.2,270.0 151.5,270.2 C151.8,270.5 152.1,270.7 152.2,271.0 C152.4,271.3 152.5,271.7 152.5,272.0Z" fill="#f5a683"/>
<path d="M150.0,312.0 C150.8,311.3 152.4,315.3 153.0,318.0 C153.6,320.7 154.0,326.0 153.5,328.0 C153.0,330.0 150.9,331.0 150.0,330.0 C149.1,329.0 148.0,325.0 148.0,322.0 C148.0,319.0 149.2,312.7 150.0,312.0Z" fill="#f5a683"/>
<path d="M180.0,250.0 C183.3,247.0 190.1,242.8 195.0,240.0 C199.9,237.2 204.1,233.9 209.3,233.0 C214.6,232.1 221.4,234.1 226.5,234.7 C231.6,235.3 236.5,235.4 240.0,236.8 C243.5,238.2 245.3,240.1 247.6,242.9 C249.9,245.7 253.0,250.6 253.8,253.7 C254.6,256.8 253.5,259.5 252.2,261.3 C250.9,263.1 247.3,263.3 246.1,264.4 C244.9,265.5 246.3,264.8 245.2,268.0 C244.1,271.2 242.4,278.6 239.5,283.6 C236.6,288.6 232.3,294.9 228.0,298.0 C223.7,301.1 218.5,301.6 213.7,302.3 C208.9,303.0 203.9,301.0 199.3,302.3 C194.7,303.6 189.6,307.1 186.0,310.0 C182.4,312.9 180.7,318.7 178.0,320.0 C175.3,321.3 171.7,320.5 170.0,318.0 C168.3,315.5 168.0,309.3 168.0,305.0 C168.0,300.7 169.3,297.8 170.0,292.0 C170.7,286.2 171.2,275.7 172.0,270.0 C172.8,264.3 173.7,261.3 175.0,258.0 C176.3,254.7 176.7,253.0 180.0,250.0Z" fill="#f5a683"/>
<path d="M200.0,245.0 C204.1,242.3 209.7,242.4 214.4,241.6 C219.1,240.8 223.9,239.5 228.2,239.9 C232.5,240.3 237.4,242.3 240.2,244.0 C243.0,245.7 244.4,247.5 245.0,250.0 C245.6,252.5 244.9,255.8 244.0,258.8 C243.1,261.8 240.7,264.6 239.5,268.0 C238.3,271.4 238.5,275.5 236.6,279.3 C234.7,283.1 231.3,287.9 228.0,290.8 C224.7,293.7 220.3,296.0 216.5,296.5 C212.7,297.0 208.9,293.2 205.1,293.7 C201.3,294.2 196.8,298.3 193.6,299.4 C190.4,300.4 188.1,301.2 186.0,300.0 C183.9,298.8 182.0,295.3 181.0,292.0 C180.0,288.7 179.7,284.0 180.0,280.0 C180.3,276.0 181.3,271.7 183.0,268.0 C184.7,264.3 187.2,261.8 190.0,258.0 C192.8,254.2 195.9,247.7 200.0,245.0Z" fill="#e3735a"/>
<path d="M190.0,260.0 C193.2,258.2 201.2,257.3 205.0,256.0 C208.8,254.7 210.0,253.2 212.7,252.0 C215.4,250.8 218.2,248.5 221.3,248.5 C224.5,248.5 229.4,249.8 231.6,252.0 C233.8,254.2 234.2,258.6 234.5,262.0 C234.8,265.4 234.8,268.6 233.7,272.2 C232.6,275.8 230.6,280.7 228.0,283.6 C225.4,286.5 221.6,289.8 218.0,289.4 C214.4,289.0 210.2,283.2 206.5,281.0 C202.8,278.8 199.1,277.2 196.0,276.0 C192.9,274.8 189.7,275.5 188.0,274.0 C186.3,272.5 185.7,269.3 186.0,267.0 C186.3,264.7 186.8,261.8 190.0,260.0Z" fill="#cc3d3e"/>
<path d="M215.0,259.0 C216.7,257.0 221.7,257.2 224.0,258.0 C226.3,258.8 228.5,261.5 229.0,264.0 C229.5,266.5 228.7,271.0 227.0,273.0 C225.3,275.0 221.2,276.5 219.0,276.0 C216.8,275.5 214.7,272.8 214.0,270.0 C213.3,267.2 213.3,261.0 215.0,259.0Z" fill="#a81a2c"/>
</g>
<g fill="none" stroke="#9a9a9a" stroke-width="0.45" stroke-linejoin="round">
<path d="M247.9,252.1 L254.1,251.4 L260.2,253.7 L267.9,252.1 L274.2,253.7 L278.8,255.2 L283.4,252.1 L288.0,249.1"/>
<path d="M267.9,247.5 L272.6,244.4 L277.2,239.7 L275.7,236.6 L280.4,233.6 L283.9,235.4 L287.9,232.4"/>
<path d="M260.2,262.9 L264.9,267.6 L266.4,275.3 L272.6,276.9 L278.8,275.3 L285.0,272.2 L289.7,264.5 L294.2,259.9 L300.5,253.7"/>
<path d="M244.8,278.4 L252.4,275.3 L260.2,275.3 L264.9,280.0 L269.5,280.0"/>
<path d="M85.4,243.6 L90.7,239.5 L97.5,243.6 L101.5,247.7 L108.3,250.4"/>
<path d="M109.7,226.1 L115.1,223.4 L119.1,227.4 L123.2,224.7 L127.2,228.7 L130.0,236.9 L134.0,242.3 L136.7,250.4 L134.0,258.6 L136.7,266.6"/>
<path d="M136.7,215.3 L140.8,220.6 L144.8,217.9 L146.2,223.4 L142.2,230.1"/>
<path d="M64.3,247.7 L71.7,246.2 L80.6,247.7 L88.0,247.7 L93.8,244.8 L98.3,243.3"/>
<path d="M56.9,255.1 L59.9,261.0 L58.5,268.4 L61.4,272.8"/>
<path d="M89.4,261.0 L95.4,258.1 L101.2,259.6 L108.6,258.1 L113.1,261.0 L120.4,259.6"/>
<path d="M120.4,235.9 L124.9,237.4 L130.8,234.4 L136.6,237.4 L139.7,233.0"/>
<path d="M130.8,250.7 L133.7,256.5 L136.6,261.0 L139.7,268.4"/>
<path d="M102.9,211.1 L106.9,215.2 L112.0,213.1 L115.0,217.2 L121.1,215.2"/>
<path d="M148.4,207.1 L153.4,211.1 L159.5,209.1 L163.5,214.2"/>
<path d="M236.4,267.8 L240.4,271.8 L244.4,269.8 L248.5,273.8"/>
</g>
<g fill="url(#dots)" opacity="0.75">
<path d="M127.0,268.0 C129.3,265.5 136.2,267.3 140.0,268.0 C143.8,268.7 145.8,271.7 150.0,272.0 C154.2,272.3 160.3,271.7 165.0,270.0 C169.7,268.3 174.7,265.3 178.0,262.0 C181.3,258.7 182.2,254.0 185.0,250.0 C187.8,246.0 191.5,241.7 195.0,238.0 C198.5,234.3 201.1,230.0 205.8,228.0 C210.5,226.0 217.3,226.3 223.0,226.1 C228.7,225.8 235.6,226.0 240.0,226.5 C244.4,227.0 246.6,227.2 249.2,229.2 C251.8,231.2 253.5,234.8 255.3,238.4 C257.1,242.0 258.1,247.0 259.9,250.6 C261.7,254.2 265.0,257.0 266.0,259.8 C267.0,262.6 267.0,265.6 266.0,267.4 C265.0,269.2 262.4,269.0 259.9,270.5 C257.4,272.0 253.9,273.6 251.0,276.5 C248.1,279.4 246.1,283.1 242.3,287.9 C238.5,292.7 232.8,301.5 228.0,305.1 C223.2,308.7 218.5,308.4 213.7,309.4 C208.9,310.4 204.1,309.2 199.3,310.9 C194.5,312.6 189.1,314.6 185.0,319.5 C180.9,324.4 187.5,336.6 175.0,340.0 C162.5,343.4 120.0,342.8 110.0,340.0 C100.0,337.2 113.3,327.2 115.0,323.5 C116.7,319.8 117.8,320.8 120.0,318.0 C122.2,315.2 126.6,310.5 128.4,307.0 C130.2,303.5 131.4,301.0 131.0,297.0 C130.6,293.0 126.7,287.8 126.0,283.0 C125.3,278.2 124.7,270.5 127.0,268.0Z"/>
<path d="M38.0,256.0 C39.3,254.0 41.3,257.1 44.0,258.0 C46.7,258.9 50.6,259.3 54.2,261.5 C57.8,263.7 61.0,267.7 65.6,271.2 C70.2,274.7 77.0,279.1 81.9,282.6 C86.8,286.1 93.0,289.4 94.9,292.4 C96.8,295.4 94.8,298.6 93.2,300.5 C91.6,302.4 88.9,304.2 85.1,303.7 C81.3,303.1 75.1,300.1 70.5,297.2 C65.9,294.2 61.6,288.9 57.5,286.0 C53.4,283.1 49.7,282.7 46.1,280.0 C42.5,277.3 37.4,274.0 36.0,270.0 C34.6,266.0 36.7,258.0 38.0,256.0Z"/>
</g>
<g fill="none" stroke="#2a2a2a" stroke-width="0.55">
<path d="M164.0,281.0 C164.0,282.0 163.6,283.1 163.0,284.1 C162.4,285.0 161.4,285.9 160.2,286.7 C159.0,287.4 157.5,288.0 156.0,288.4 C154.4,288.8 152.7,289.0 151.0,289.0 C149.3,289.0 147.6,288.8 146.0,288.4 C144.5,288.0 143.0,287.4 141.8,286.7 C140.6,285.9 139.6,285.0 139.0,284.1 C138.4,283.1 138.0,282.0 138.0,281.0 C138.0,280.0 138.4,278.9 139.0,277.9 C139.6,277.0 140.6,276.1 141.8,275.3 C143.0,274.6 144.5,274.0 146.0,273.6 C147.6,273.2 149.3,273.0 151.0,273.0 C152.7,273.0 154.4,273.2 156.0,273.6 C157.5,274.0 159.0,274.6 160.2,275.3 C161.4,276.1 162.4,277.0 163.0,277.9 C163.6,278.9 164.0,280.0 164.0,281.0Z" stroke-dasharray="3.4,2"/>
<path d="M180.0,283.0 C180.0,285.4 179.2,288.0 177.7,290.3 C176.3,292.5 173.9,294.7 171.2,296.4 C168.5,298.1 165.0,299.6 161.5,300.6 C157.9,301.5 153.8,302.0 150.0,302.0 C146.2,302.0 142.1,301.5 138.5,300.6 C135.0,299.6 131.5,298.1 128.8,296.4 C126.1,294.7 123.7,292.5 122.3,290.3 C120.8,288.0 120.0,285.4 120.0,283.0 C120.0,280.6 120.8,278.0 122.3,275.7 C123.7,273.5 126.1,271.3 128.8,269.6 C131.5,267.9 135.0,266.4 138.5,265.4 C142.1,264.5 146.2,264.0 150.0,264.0 C153.8,264.0 157.9,264.5 161.5,265.4 C165.0,266.4 168.5,267.9 171.2,269.6 C173.9,271.3 176.3,273.5 177.7,275.7 C179.2,278.0 180.0,280.6 180.0,283.0Z" stroke-dasharray="3.4,2"/>
<path d="M197.0,285.0 C197.0,289.0 195.7,293.2 193.3,296.9 C191.0,300.5 187.3,304.1 182.9,306.9 C178.6,309.7 173.0,312.1 167.4,313.6 C161.7,315.2 155.1,316.0 149.0,316.0 C142.9,316.0 136.3,315.2 130.6,313.6 C125.0,312.1 119.4,309.7 115.1,306.9 C110.7,304.1 107.0,300.5 104.7,296.9 C102.3,293.2 101.0,289.0 101.0,285.0 C101.0,281.0 102.3,276.8 104.7,273.1 C107.0,269.5 110.7,265.9 115.1,263.1 C119.4,260.3 125.0,257.9 130.6,256.4 C136.3,254.8 142.9,254.0 149.0,254.0 C155.1,254.0 161.7,254.8 167.4,256.4 C173.0,257.9 178.6,260.3 182.9,263.1 C187.3,265.9 191.0,269.5 193.3,273.1 C195.7,276.8 197.0,281.0 197.0,285.0Z" stroke-dasharray="3.4,2"/>
<path d="M214.0,287.0 C214.0,292.5 212.2,298.4 209.0,303.5 C205.8,308.5 200.6,313.5 194.7,317.4 C188.7,321.3 181.0,324.6 173.3,326.7 C165.5,328.8 156.4,330.0 148.0,330.0 C139.6,330.0 130.5,328.8 122.7,326.7 C115.0,324.6 107.3,321.3 101.3,317.4 C95.4,313.5 90.2,308.5 87.0,303.5 C83.8,298.4 82.0,292.5 82.0,287.0 C82.0,281.5 83.8,275.6 87.0,270.5 C90.2,265.5 95.4,260.5 101.3,256.6 C107.3,252.7 115.0,249.4 122.7,247.3 C130.5,245.2 139.6,244.0 148.0,244.0 C156.4,244.0 165.5,245.2 173.3,247.3 C181.0,249.4 188.7,252.7 194.7,256.6 C200.6,260.5 205.8,265.5 209.0,270.5 C212.2,275.6 214.0,281.5 214.0,287.0Z" stroke-dasharray="3.4,2"/>
<path d="M232.0,289.0 C232.0,296.1 229.7,303.8 225.5,310.4 C221.4,317.0 214.8,323.5 207.1,328.6 C199.4,333.6 189.5,338.0 179.5,340.7 C169.5,343.5 157.8,345.0 147.0,345.0 C136.2,345.0 124.5,343.5 114.5,340.7 C104.5,338.0 94.6,333.6 86.9,328.6 C79.2,323.5 72.6,317.0 68.5,310.4 C64.3,303.8 62.0,296.1 62.0,289.0 C62.0,281.9 64.3,274.2 68.5,267.6 C72.6,261.0 79.2,254.5 86.9,249.4 C94.6,244.4 104.5,240.0 114.5,237.3 C124.5,234.5 136.2,233.0 147.0,233.0 C157.8,233.0 169.5,234.5 179.5,237.3 C189.5,240.0 199.4,244.4 207.1,249.4 C214.8,254.5 221.4,261.0 225.5,267.6 C229.7,274.2 232.0,281.9 232.0,289.0Z" stroke-dasharray="3.4,2"/>
<path d="M227.0,244.0 C227.0,246.2 226.6,248.5 225.9,250.5 C225.3,252.5 224.2,254.5 222.9,256.0 C221.6,257.6 220.0,258.9 218.4,259.7 C216.7,260.5 214.8,261.0 213.0,261.0 C211.2,261.0 209.3,260.5 207.6,259.7 C206.0,258.9 204.4,257.6 203.1,256.0 C201.8,254.5 200.7,252.5 200.1,250.5 C199.4,248.5 199.0,246.2 199.0,244.0 C199.0,241.8 199.4,239.5 200.1,237.5 C200.7,235.5 201.8,233.5 203.1,232.0 C204.4,230.4 206.0,229.1 207.6,228.3 C209.3,227.5 211.2,227.0 213.0,227.0 C214.8,227.0 216.7,227.5 218.4,228.3 C220.0,229.1 221.6,230.4 222.9,232.0 C224.2,233.5 225.3,235.5 225.9,237.5 C226.6,239.5 227.0,241.8 227.0,244.0Z"/>
<path d="M196.0,212.0 C195.0,216.7 190.7,231.2 190.0,240.0 C189.3,248.8 190.3,257.5 192.0,265.0 C193.7,272.5 196.2,280.0 200.0,285.0 C203.8,290.0 209.7,294.2 215.0,295.0 C220.3,295.8 227.3,294.2 232.0,290.0 C236.7,285.8 240.7,277.5 243.0,270.0 C245.3,262.5 245.7,254.2 246.0,245.0 C246.3,235.8 245.2,220.0 245.0,215.0"/>
<path d="M187.0,212.0 C186.0,217.5 181.7,234.5 181.0,245.0 C180.3,255.5 181.0,265.8 183.0,275.0 C185.0,284.2 187.7,293.8 193.0,300.0 C198.3,306.2 207.2,311.2 215.0,312.0 C222.8,312.8 233.5,310.3 240.0,305.0 C246.5,299.7 251.0,289.2 254.0,280.0 C257.0,270.8 257.7,260.8 258.0,250.0 C258.3,239.2 256.3,220.8 256.0,215.0"/>
<path d="M179.0,213.0 C177.8,218.3 172.8,233.0 172.0,245.0 C171.2,257.0 171.7,272.8 174.0,285.0 C176.3,297.2 179.2,310.2 186.0,318.0 C192.8,325.8 204.7,331.0 215.0,332.0 C225.3,333.0 239.7,329.8 248.0,324.0 C256.3,318.2 261.3,307.3 265.0,297.0 C268.7,286.7 269.8,274.5 270.0,262.0 C270.2,249.5 266.7,228.7 266.0,222.0"/>
<path d="M52.0,262.0 C53.3,260.0 55.3,253.7 60.0,250.0 C64.7,246.3 74.2,242.3 80.0,240.0 C85.8,237.7 91.7,235.2 95.0,236.0 C98.3,236.8 100.0,241.0 100.0,245.0 C100.0,249.0 97.0,255.5 95.0,260.0 C93.0,264.5 90.8,267.7 88.0,272.0 C85.2,276.3 79.7,283.7 78.0,286.0"/>
</g>
<g stroke="#000" fill="#000" stroke-linecap="butt">
<line x1="112.0" y1="217.5" x2="115.2" y2="222.1" stroke-width="0.75"/><path d="M116.3,223.6 L114.2,222.2 L115.7,221.1Z"/>
<line x1="93.1" y1="226.1" x2="96.3" y2="231.3" stroke-width="0.78"/><path d="M97.4,233.0 L95.2,231.4 L96.9,230.3Z"/>
<line x1="106.8" y1="230.4" x2="110.0" y2="234.7" stroke-width="0.74"/><path d="M111.1,236.1 L109.0,234.8 L110.5,233.7Z"/>
<line x1="120.0" y1="230.4" x2="123.2" y2="234.0" stroke-width="0.70"/><path d="M124.3,235.2 L122.2,234.2 L123.5,233.0Z"/>
<line x1="86.2" y1="239.0" x2="89.4" y2="243.6" stroke-width="0.75"/><path d="M90.5,245.1 L88.4,243.7 L89.9,242.6Z"/>
<line x1="99.1" y1="241.6" x2="103.0" y2="246.8" stroke-width="0.81"/><path d="M104.3,248.5 L101.9,247.0 L103.5,245.8Z"/>
<line x1="112.5" y1="244.6" x2="116.4" y2="248.8" stroke-width="0.76"/><path d="M117.7,250.2 L115.4,249.1 L116.8,247.8Z"/>
<line x1="74.1" y1="251.1" x2="75.5" y2="255.0" stroke-width="0.66"/><path d="M75.9,256.3 L74.5,254.8 L76.0,254.3Z"/>
<line x1="85.3" y1="253.7" x2="88.5" y2="258.2" stroke-width="0.75"/><path d="M89.6,259.7 L87.5,258.3 L89.0,257.3Z"/>
<line x1="96.5" y1="258.0" x2="101.0" y2="261.8" stroke-width="0.77"/><path d="M102.5,263.1 L100.0,262.2 L101.2,260.8Z"/>
<line x1="110.3" y1="258.8" x2="115.5" y2="262.7" stroke-width="0.81"/><path d="M117.2,264.0 L114.5,263.2 L115.7,261.6Z"/>
<line x1="48.3" y1="262.3" x2="52.2" y2="267.5" stroke-width="0.81"/><path d="M53.5,269.2 L51.1,267.7 L52.7,266.5Z"/>
<line x1="63.0" y1="260.6" x2="65.5" y2="265.1" stroke-width="0.72"/><path d="M66.4,266.6 L64.5,265.1 L66.1,264.2Z"/>
<line x1="75.0" y1="270.9" x2="78.9" y2="275.4" stroke-width="0.77"/><path d="M80.2,276.9 L77.8,275.7 L79.3,274.4Z"/>
<line x1="88.8" y1="269.2" x2="92.6" y2="273.0" stroke-width="0.74"/><path d="M93.9,274.3 L91.6,273.3 L92.9,272.0Z"/>
<line x1="103.4" y1="272.6" x2="108.6" y2="276.5" stroke-width="0.81"/><path d="M110.3,277.8 L107.6,277.0 L108.8,275.4Z"/>
<line x1="116.3" y1="273.5" x2="120.8" y2="276.7" stroke-width="0.75"/><path d="M122.3,277.8 L119.9,277.2 L120.9,275.7Z"/>
<line x1="124.5" y1="215.5" x2="127.3" y2="218.0" stroke-width="0.63"/><path d="M128.2,218.8 L126.4,218.2 L127.4,217.1Z"/>
<line x1="64.7" y1="245.0" x2="65.3" y2="246.2" stroke-width="0.60"/><path d="M65.5,246.7 L64.5,246.1 L65.6,245.5Z"/>
<line x1="75.9" y1="238.0" x2="76.5" y2="239.2" stroke-width="0.60"/><path d="M76.7,239.7 L75.7,239.1 L76.8,238.5Z"/>
<line x1="62.4" y1="274.5" x2="67.3" y2="280.0" stroke-width="0.86"/><path d="M68.9,281.8 L66.1,280.3 L67.8,278.9Z"/>
<line x1="72.1" y1="284.2" x2="78.2" y2="289.7" stroke-width="0.91"/><path d="M80.2,291.5 L77.0,290.2 L78.6,288.5Z"/>
<line x1="85.1" y1="284.2" x2="91.2" y2="288.5" stroke-width="0.87"/><path d="M93.2,289.9 L90.1,289.1 L91.4,287.3Z"/>
<line x1="98.9" y1="287.5" x2="104.4" y2="291.2" stroke-width="0.81"/><path d="M106.2,292.4 L103.4,291.7 L104.5,290.0Z"/>
<line x1="113.0" y1="289.5" x2="118.9" y2="292.9" stroke-width="0.83"/><path d="M120.9,294.0 L118.0,293.5 L119.0,291.7Z"/>
<line x1="90.0" y1="298.0" x2="97.9" y2="302.9" stroke-width="0.98"/><path d="M100.5,304.5 L96.8,303.7 L98.1,301.5Z"/>
<line x1="103.0" y1="302.9" x2="110.3" y2="306.6" stroke-width="0.91"/><path d="M112.7,307.8 L109.3,307.4 L110.4,305.3Z"/>
<line x1="116.5" y1="303.2" x2="123.4" y2="306.5" stroke-width="0.88"/><path d="M125.7,307.6 L122.5,307.3 L123.4,305.3Z"/>
<line x1="119.5" y1="317.5" x2="126.0" y2="319.8" stroke-width="0.83"/><path d="M128.2,320.5 L125.2,320.6 L125.9,318.6Z"/>
<line x1="132.6" y1="232.6" x2="135.6" y2="234.7" stroke-width="0.63"/><path d="M136.6,235.4 L134.8,235.0 L135.6,233.8Z"/>
<line x1="145.0" y1="226.0" x2="147.2" y2="227.1" stroke-width="0.60"/><path d="M148.0,227.4 L146.5,227.4 L147.1,226.2Z"/>
<line x1="151.6" y1="240.2" x2="153.7" y2="240.7" stroke-width="0.60"/><path d="M154.4,240.8 L153.1,241.2 L153.3,239.9Z"/>
<line x1="126.3" y1="245.9" x2="130.9" y2="248.5" stroke-width="0.73"/><path d="M132.4,249.4 L130.0,249.1 L130.9,247.5Z"/>
<line x1="141.0" y1="248.4" x2="144.8" y2="250.1" stroke-width="0.66"/><path d="M146.1,250.6 L144.0,250.6 L144.7,249.1Z"/>
<line x1="150.4" y1="245.9" x2="155.0" y2="247.2" stroke-width="0.70"/><path d="M156.5,247.6 L154.3,247.9 L154.7,246.2Z"/>
<line x1="160.0" y1="251.5" x2="163.5" y2="253.0" stroke-width="0.64"/><path d="M164.7,253.5 L162.8,253.5 L163.4,252.1Z"/>
<line x1="170.5" y1="246.8" x2="174.5" y2="247.2" stroke-width="0.65"/><path d="M175.8,247.4 L173.9,248.0 L174.1,246.4Z"/>
<line x1="122.9" y1="258.8" x2="128.8" y2="260.8" stroke-width="0.79"/><path d="M130.7,261.4 L128.0,261.5 L128.6,259.7Z"/>
<line x1="135.8" y1="262.3" x2="141.7" y2="264.9" stroke-width="0.80"/><path d="M143.6,265.7 L140.8,265.6 L141.6,263.7Z"/>
<line x1="149.6" y1="262.3" x2="156.0" y2="264.2" stroke-width="0.82"/><path d="M158.2,264.9 L155.3,265.1 L155.9,263.1Z"/>
<line x1="161.6" y1="263.1" x2="170.7" y2="264.4" stroke-width="0.97"/><path d="M173.7,264.9 L170.0,265.6 L170.4,263.1Z"/>
<line x1="178.0" y1="258.8" x2="195.9" y2="257.4" stroke-width="1.46"/><path d="M200.4,257.1 L195.6,259.3 L195.3,255.7Z"/>
<line x1="182.5" y1="246.5" x2="189.0" y2="246.0" stroke-width="0.81"/><path d="M191.1,245.8 L188.5,247.0 L188.4,245.0Z"/>
<line x1="192.8" y1="237.6" x2="199.3" y2="236.7" stroke-width="0.81"/><path d="M201.5,236.4 L199.0,237.8 L198.7,235.8Z"/>
<line x1="178.8" y1="235.6" x2="180.8" y2="235.2" stroke-width="0.60"/><path d="M181.4,235.1 L180.4,235.9 L180.1,234.7Z"/>
<line x1="180.5" y1="270.9" x2="192.1" y2="270.2" stroke-width="1.13"/><path d="M196.0,270.0 L191.7,271.7 L191.5,268.8Z"/>
<line x1="196.0" y1="270.0" x2="209.2" y2="267.5" stroke-width="1.24"/><path d="M213.6,266.6 L209.0,269.1 L208.4,266.0Z"/>
<line x1="128.0" y1="273.0" x2="133.8" y2="275.8" stroke-width="0.80"/><path d="M135.7,276.7 L132.9,276.5 L133.8,274.7Z"/>
<line x1="140.2" y1="275.0" x2="146.4" y2="277.2" stroke-width="0.81"/><path d="M148.5,278.0 L145.6,278.0 L146.3,276.1Z"/>
<line x1="153.0" y1="275.6" x2="160.9" y2="277.4" stroke-width="0.91"/><path d="M163.5,278.0 L160.1,278.4 L160.6,276.2Z"/>
<line x1="165.8" y1="276.0" x2="174.9" y2="276.9" stroke-width="0.98"/><path d="M178.0,277.2 L174.3,278.1 L174.6,275.6Z"/>
<line x1="217.3" y1="215.6" x2="220.2" y2="213.6" stroke-width="0.62"/><path d="M221.2,212.9 L220.2,214.5 L219.4,213.2Z"/>
<line x1="229.9" y1="220.1" x2="233.1" y2="218.2" stroke-width="0.64"/><path d="M234.2,217.5 L233.1,219.1 L232.3,217.7Z"/>
<line x1="246.3" y1="221.0" x2="248.2" y2="218.4" stroke-width="0.60"/><path d="M248.8,217.5 L248.5,219.2 L247.3,218.4Z"/>
<line x1="202.0" y1="227.9" x2="206.1" y2="226.1" stroke-width="0.68"/><path d="M207.5,225.5 L206.0,227.1 L205.3,225.5Z"/>
<line x1="214.5" y1="229.5" x2="219.3" y2="227.1" stroke-width="0.74"/><path d="M220.9,226.3 L219.3,228.1 L218.4,226.5Z"/>
<line x1="229.0" y1="234.7" x2="234.2" y2="231.5" stroke-width="0.78"/><path d="M235.9,230.4 L234.3,232.6 L233.2,230.9Z"/>
<line x1="243.0" y1="235.4" x2="246.6" y2="232.4" stroke-width="0.69"/><path d="M247.8,231.4 L246.8,233.4 L245.7,232.1Z"/>
<line x1="260.0" y1="229.4" x2="262.1" y2="227.6" stroke-width="0.60"/><path d="M262.8,227.0 L262.2,228.4 L261.3,227.4Z"/>
<line x1="210.2" y1="241.7" x2="217.4" y2="239.7" stroke-width="0.87"/><path d="M219.8,239.0 L217.2,240.9 L216.6,238.8Z"/>
<line x1="199.5" y1="250.5" x2="208.4" y2="248.9" stroke-width="0.97"/><path d="M211.4,248.4 L208.1,250.2 L207.7,247.8Z"/>
<line x1="219.6" y1="250.5" x2="227.7" y2="247.7" stroke-width="0.94"/><path d="M230.4,246.8 L227.6,249.0 L226.8,246.8Z"/>
<line x1="231.6" y1="246.8" x2="238.0" y2="242.9" stroke-width="0.87"/><path d="M240.2,241.6 L238.2,244.1 L237.1,242.2Z"/>
<line x1="243.4" y1="254.0" x2="248.5" y2="251.3" stroke-width="0.76"/><path d="M250.2,250.4 L248.5,252.4 L247.6,250.7Z"/>
<line x1="255.5" y1="243.9" x2="258.5" y2="241.8" stroke-width="0.63"/><path d="M259.5,241.1 L258.5,242.7 L257.7,241.5Z"/>
<line x1="207.5" y1="260.6" x2="219.3" y2="257.8" stroke-width="1.16"/><path d="M223.2,256.8 L219.1,259.3 L218.4,256.4Z"/>
<line x1="229.9" y1="258.8" x2="237.6" y2="256.2" stroke-width="0.91"/><path d="M240.2,255.4 L237.5,257.5 L236.8,255.3Z"/>
<line x1="242.2" y1="267.0" x2="247.6" y2="264.9" stroke-width="0.76"/><path d="M249.4,264.2 L247.5,266.0 L246.8,264.2Z"/>
<line x1="259.5" y1="256.5" x2="262.3" y2="255.8" stroke-width="0.60"/><path d="M263.2,255.6 L262.0,256.6 L261.6,255.3Z"/>
<line x1="220.4" y1="269.2" x2="230.2" y2="266.6" stroke-width="1.04"/><path d="M233.5,265.7 L230.1,268.0 L229.4,265.4Z"/>
<line x1="208.5" y1="277.0" x2="220.0" y2="274.4" stroke-width="1.14"/><path d="M223.8,273.5 L219.8,275.9 L219.2,273.1Z"/>
<line x1="234.8" y1="277.3" x2="240.0" y2="276.0" stroke-width="0.74"/><path d="M241.7,275.5 L239.7,277.0 L239.3,275.2Z"/>
<line x1="269.8" y1="247.5" x2="271.5" y2="246.4" stroke-width="0.60"/><path d="M272.1,246.0 L271.4,247.2 L270.8,246.1Z"/>
<line x1="181.0" y1="284.0" x2="191.5" y2="283.4" stroke-width="1.06"/><path d="M195.0,283.2 L191.1,284.8 L190.9,282.1Z"/>
<line x1="127.0" y1="286.7" x2="133.1" y2="289.2" stroke-width="0.81"/><path d="M135.1,290.1 L132.2,290.0 L133.0,288.1Z"/>
<line x1="141.1" y1="289.4" x2="147.6" y2="291.4" stroke-width="0.83"/><path d="M149.8,292.1 L146.8,292.3 L147.5,290.3Z"/>
<line x1="154.5" y1="289.4" x2="162.5" y2="291.4" stroke-width="0.92"/><path d="M165.2,292.1 L161.8,292.4 L162.3,290.2Z"/>
<line x1="167.2" y1="289.4" x2="177.2" y2="289.9" stroke-width="1.03"/><path d="M180.6,290.1 L176.7,291.2 L176.8,288.6Z"/>
<line x1="130.4" y1="302.8" x2="136.4" y2="304.8" stroke-width="0.80"/><path d="M138.4,305.5 L135.6,305.6 L136.2,303.7Z"/>
<line x1="143.8" y1="304.1" x2="149.8" y2="305.6" stroke-width="0.79"/><path d="M151.8,306.1 L149.1,306.4 L149.6,304.5Z"/>
<line x1="158.5" y1="304.1" x2="164.0" y2="305.6" stroke-width="0.76"/><path d="M165.8,306.1 L163.2,306.4 L163.7,304.6Z"/>
<line x1="171.2" y1="302.1" x2="178.2" y2="303.1" stroke-width="0.85"/><path d="M180.6,303.4 L177.6,304.1 L177.9,301.9Z"/>
<line x1="184.8" y1="302.2" x2="190.8" y2="302.7" stroke-width="0.78"/><path d="M192.8,302.9 L190.2,303.6 L190.4,301.7Z"/>
<line x1="133.1" y1="318.8" x2="139.1" y2="320.8" stroke-width="0.80"/><path d="M141.1,321.5 L138.3,321.6 L138.9,319.7Z"/>
<line x1="147.1" y1="319.5" x2="152.1" y2="320.5" stroke-width="0.72"/><path d="M153.8,320.8 L151.5,321.3 L151.8,319.5Z"/>
<line x1="161.8" y1="318.8" x2="166.3" y2="319.9" stroke-width="0.69"/><path d="M167.8,320.2 L165.6,320.6 L166.0,318.9Z"/>
<line x1="177.9" y1="316.2" x2="181.4" y2="316.9" stroke-width="0.62"/><path d="M182.6,317.1 L180.8,317.5 L181.1,316.0Z"/>
<line x1="189.2" y1="325.0" x2="192.3" y2="325.0" stroke-width="0.60"/><path d="M193.4,325.0 L191.8,325.7 L191.8,324.3Z"/>
<line x1="197.2" y1="282.9" x2="207.4" y2="280.2" stroke-width="1.06"/><path d="M210.8,279.3 L207.3,281.6 L206.6,279.0Z"/>
<line x1="222.3" y1="286.5" x2="228.8" y2="284.9" stroke-width="0.82"/><path d="M230.9,284.4 L228.5,286.0 L228.0,284.0Z"/>
<line x1="242.3" y1="267.2" x2="246.7" y2="265.6" stroke-width="0.69"/><path d="M248.1,265.0 L246.5,266.5 L245.9,264.9Z"/>
<line x1="193.6" y1="294.4" x2="201.1" y2="293.4" stroke-width="0.87"/><path d="M203.6,293.0 L200.8,294.5 L200.5,292.3Z"/>
<line x1="209.4" y1="294.4" x2="215.3" y2="292.8" stroke-width="0.79"/><path d="M217.3,292.2 L215.1,293.8 L214.6,291.9Z"/>
<line x1="205.1" y1="305.9" x2="208.8" y2="305.3" stroke-width="0.64"/><path d="M210.1,305.1 L208.5,306.1 L208.2,304.6Z"/>
<line x1="220.1" y1="304.4" x2="222.3" y2="303.9" stroke-width="0.60"/><path d="M223.0,303.7 L221.9,304.6 L221.6,303.4Z"/>
<line x1="236.6" y1="295.1" x2="239.3" y2="294.6" stroke-width="0.60"/><path d="M240.2,294.4 L238.9,295.3 L238.7,294.0Z"/>
<line x1="250.2" y1="282.2" x2="252.4" y2="281.7" stroke-width="0.60"/><path d="M253.1,281.5 L252.0,282.4 L251.7,281.2Z"/>
<line x1="193.6" y1="313.7" x2="197.9" y2="313.2" stroke-width="0.67"/><path d="M199.3,313.0 L197.5,314.1 L197.3,312.4Z"/>
<line x1="204.4" y1="323.1" x2="207.0" y2="322.9" stroke-width="0.60"/><path d="M207.9,322.8 L206.6,323.6 L206.5,322.2Z"/>
<line x1="138.8" y1="212.6" x2="141.0" y2="213.7" stroke-width="0.60"/><path d="M141.7,214.1 L140.2,214.1 L140.8,212.9Z"/>
<line x1="203.0" y1="213.4" x2="204.6" y2="213.2" stroke-width="0.60"/><path d="M205.2,213.1 L204.2,213.8 L204.1,212.6Z"/>
<line x1="253.5" y1="225.5" x2="255.0" y2="224.8" stroke-width="0.60"/><path d="M255.5,224.5 L254.8,225.5 L254.3,224.4Z"/>
<line x1="272.0" y1="244.0" x2="273.5" y2="243.6" stroke-width="0.60"/><path d="M274.0,243.5 L273.2,244.3 L272.9,243.2Z"/>
<line x1="265.0" y1="259.0" x2="266.1" y2="258.7" stroke-width="0.60"/><path d="M266.5,258.6 L265.8,259.4 L265.4,258.3Z"/>
<line x1="250.0" y1="281.5" x2="252.2" y2="281.1" stroke-width="0.60"/><path d="M253.0,281.0 L251.9,281.8 L251.7,280.6Z"/>
<line x1="273.0" y1="292.0" x2="274.1" y2="292.0" stroke-width="0.60"/><path d="M274.5,292.0 L273.6,292.6 L273.6,291.4Z"/>
<line x1="281.0" y1="281.0" x2="281.9" y2="281.0" stroke-width="0.60"/><path d="M282.0,281.0 L281.4,281.6 L281.4,280.4Z"/>
<line x1="290.0" y1="262.0" x2="291.1" y2="261.6" stroke-width="0.60"/><path d="M291.5,261.5 L290.8,262.4 L290.4,261.2Z"/>
</g>
</g>
<path d="M136.62,196.62 A49.86,49.86 0 0 0 219.78,196.62 L316.01,260.31 A165.26,165.26 0 0 1 40.39,260.31 Z" fill="none" stroke="#777" stroke-width="0.7"/>
<g clip-path="url(#fc2)">
<rect x="0" y="0" width="400" height="523" fill="#fcebe1"/>
<g filter="url(#bl05)">
<path d="M88.0,378.0 C90.5,375.8 94.3,375.2 98.0,375.0 C101.7,374.8 106.0,376.8 110.0,377.0 C114.0,377.2 117.9,377.2 122.0,376.0 C126.1,374.8 130.6,369.8 134.6,370.0 C138.6,370.2 142.7,374.2 146.0,377.3 C149.3,380.4 152.3,385.5 154.7,388.8 C157.1,392.1 158.7,396.0 160.4,397.3 C162.1,398.6 164.0,395.3 165.1,396.6 C166.2,397.9 167.4,402.3 166.8,405.2 C166.2,408.1 163.6,410.4 161.6,413.8 C159.6,417.2 157.0,422.9 154.7,425.9 C152.4,428.9 151.3,430.3 148.0,432.0 C144.7,433.7 139.0,434.0 135.0,436.0 C131.0,438.0 127.1,442.3 124.0,444.0 C120.9,445.7 118.5,445.4 116.5,446.0 C114.5,446.6 114.5,447.1 111.9,447.6 C109.4,448.1 106.0,449.4 101.2,449.1 C96.4,448.8 88.0,447.8 82.9,446.0 C77.8,444.2 73.4,441.1 70.6,438.4 C67.8,435.7 66.6,432.9 65.8,430.0 C65.0,427.1 64.6,422.8 66.0,420.7 C67.4,418.6 70.7,419.0 74.4,417.3 C78.1,415.6 85.1,412.4 88.2,410.4 C91.3,408.4 92.7,407.5 93.3,405.2 C93.9,402.9 93.3,399.5 91.6,396.6 C89.9,393.7 83.6,391.1 83.0,388.0 C82.4,384.9 85.5,380.2 88.0,378.0Z" fill="#fcd0b6"/>
<path d="M120.0,418.0 C120.0,419.0 119.8,420.1 119.5,421.1 C119.3,422.0 118.8,422.9 118.2,423.7 C117.7,424.4 117.0,425.0 116.3,425.4 C115.6,425.8 114.8,426.0 114.0,426.0 C113.2,426.0 112.4,425.8 111.7,425.4 C111.0,425.0 110.3,424.4 109.8,423.7 C109.2,422.9 108.7,422.0 108.5,421.1 C108.2,420.1 108.0,419.0 108.0,418.0 C108.0,417.0 108.2,415.9 108.5,414.9 C108.7,414.0 109.2,413.1 109.8,412.3 C110.3,411.6 111.0,411.0 111.7,410.6 C112.4,410.2 113.2,410.0 114.0,410.0 C114.8,410.0 115.6,410.2 116.3,410.6 C117.0,411.0 117.7,411.6 118.2,412.3 C118.8,413.1 119.3,414.0 119.5,414.9 C119.8,415.9 120.0,417.0 120.0,418.0Z" fill="#fcebe1"/>
<path d="M79.6,408.6 C79.6,409.0 79.5,409.5 79.3,409.9 C79.1,410.4 78.7,410.8 78.3,411.1 C78.0,411.4 77.5,411.7 76.9,411.8 C76.4,412.0 75.8,412.1 75.3,412.1 C74.8,412.1 74.2,412.0 73.7,411.8 C73.1,411.7 72.6,411.4 72.3,411.1 C71.9,410.8 71.5,410.4 71.3,409.9 C71.1,409.5 71.0,409.0 71.0,408.6 C71.0,408.2 71.1,407.7 71.3,407.3 C71.5,406.8 71.9,406.4 72.3,406.1 C72.6,405.8 73.1,405.5 73.7,405.4 C74.2,405.2 74.8,405.1 75.3,405.1 C75.8,405.1 76.4,405.2 76.9,405.4 C77.5,405.5 78.0,405.8 78.3,406.1 C78.7,406.4 79.1,406.8 79.3,407.3 C79.5,407.7 79.6,408.2 79.6,408.6Z" fill="#e6eef3"/>
<path d="M166.0,396.0 C166.8,393.9 169.6,393.3 172.8,392.3 C176.0,391.3 181.1,390.2 185.0,390.0 C188.9,389.8 192.6,391.3 196.0,391.0 C199.4,390.7 202.8,389.5 205.7,388.4 C208.6,387.3 211.0,385.1 213.6,384.4 C216.2,383.7 218.3,386.8 221.0,384.0 C223.7,381.2 226.2,370.8 229.7,367.4 C233.2,364.0 238.4,363.1 241.8,363.9 C245.2,364.7 247.6,369.0 250.0,372.0 C252.4,375.0 253.8,378.2 256.0,382.0 C258.2,385.8 260.1,391.1 263.4,394.5 C266.7,397.9 271.0,400.1 275.6,402.1 C280.2,404.1 287.3,404.9 290.9,406.7 C294.5,408.5 296.5,409.5 297.0,412.8 C297.5,416.1 296.3,423.0 294.0,426.6 C291.7,430.2 287.6,432.4 283.2,434.2 C278.8,436.0 273.0,436.8 267.9,437.3 C262.8,437.8 257.2,437.1 252.6,437.0 C247.9,436.9 243.8,436.7 240.0,436.5 C236.2,436.3 234.2,436.2 230.0,436.0 C225.8,435.8 220.0,434.8 215.0,435.0 C210.0,435.2 204.2,436.5 200.0,437.0 C195.8,437.5 193.3,438.2 190.0,438.0 C186.7,437.8 183.3,437.0 180.0,436.0 C176.7,435.0 172.3,434.7 170.0,432.0 C167.7,429.3 166.3,424.5 166.0,420.0 C165.7,415.5 168.0,409.0 168.0,405.0 C168.0,401.0 165.2,398.1 166.0,396.0Z" fill="#fcd0b6"/>
<path d="M159.5,392.6 C160.6,393.5 161.3,394.9 161.6,396.6 C161.9,398.3 161.8,400.5 161.3,402.8 C160.7,405.0 159.7,407.6 158.4,410.1 C157.1,412.5 155.4,415.1 153.5,417.4 C151.7,419.7 149.5,422.0 147.4,423.7 C145.2,425.5 142.9,427.0 140.8,428.0 C138.7,429.0 136.6,429.6 134.9,429.7 C133.2,429.7 131.6,429.3 130.5,428.4 C129.4,427.5 128.7,426.1 128.4,424.4 C128.1,422.7 128.2,420.5 128.7,418.2 C129.3,416.0 130.3,413.4 131.6,410.9 C132.9,408.5 134.6,405.9 136.5,403.6 C138.3,401.3 140.5,399.0 142.6,397.3 C144.8,395.5 147.1,394.0 149.2,393.0 C151.3,392.0 153.4,391.4 155.1,391.3 C156.8,391.3 158.4,391.7 159.5,392.6Z" fill="#f5a683"/>
<path d="M157.3,396.0 C158.2,396.7 158.9,397.9 159.1,399.2 C159.4,400.6 159.3,402.3 159.0,404.1 C158.6,405.9 157.8,408.0 156.8,409.9 C155.8,411.8 154.4,413.9 153.0,415.7 C151.5,417.4 149.8,419.2 148.1,420.6 C146.5,422.0 144.6,423.1 142.9,423.9 C141.3,424.6 139.6,425.1 138.2,425.1 C136.8,425.1 135.6,424.7 134.7,424.0 C133.8,423.3 133.1,422.1 132.9,420.8 C132.6,419.4 132.7,417.7 133.0,415.9 C133.4,414.1 134.2,412.0 135.2,410.1 C136.2,408.2 137.6,406.1 139.0,404.3 C140.5,402.6 142.2,400.8 143.9,399.4 C145.5,398.0 147.4,396.9 149.1,396.1 C150.7,395.4 152.4,394.9 153.8,394.9 C155.2,394.9 156.4,395.3 157.3,396.0Z" fill="#e3735a"/>
<path d="M152.8,401.7 C153.3,402.1 153.7,402.8 153.8,403.5 C154.0,404.3 153.9,405.2 153.7,406.2 C153.5,407.2 153.1,408.4 152.5,409.4 C151.9,410.5 151.2,411.7 150.4,412.6 C149.6,413.6 148.6,414.6 147.7,415.4 C146.8,416.1 145.7,416.8 144.8,417.2 C143.9,417.6 142.9,417.9 142.2,417.9 C141.4,417.9 140.7,417.7 140.2,417.3 C139.7,416.9 139.3,416.2 139.2,415.5 C139.0,414.7 139.1,413.8 139.3,412.8 C139.5,411.8 139.9,410.6 140.5,409.6 C141.1,408.5 141.8,407.3 142.6,406.4 C143.4,405.4 144.4,404.4 145.3,403.6 C146.2,402.9 147.3,402.2 148.2,401.8 C149.1,401.4 150.1,401.1 150.8,401.1 C151.6,401.1 152.3,401.3 152.8,401.7Z" fill="#d65746"/>
<path d="M98.5,381.5 C98.5,381.9 98.4,382.3 98.2,382.6 C97.9,383.0 97.6,383.4 97.2,383.6 C96.8,383.9 96.3,384.1 95.7,384.3 C95.2,384.4 94.6,384.5 94.0,384.5 C93.4,384.5 92.8,384.4 92.3,384.3 C91.7,384.1 91.2,383.9 90.8,383.6 C90.4,383.4 90.1,383.0 89.8,382.6 C89.6,382.3 89.5,381.9 89.5,381.5 C89.5,381.1 89.6,380.7 89.8,380.4 C90.1,380.0 90.4,379.6 90.8,379.4 C91.2,379.1 91.7,378.9 92.3,378.7 C92.8,378.6 93.4,378.5 94.0,378.5 C94.6,378.5 95.2,378.6 95.7,378.7 C96.3,378.9 96.8,379.1 97.2,379.4 C97.6,379.6 97.9,380.0 98.2,380.4 C98.4,380.7 98.5,381.1 98.5,381.5Z" fill="#f5a683"/>
<path d="M93.8,427.0 C93.8,427.4 93.7,427.9 93.6,428.3 C93.5,428.8 93.3,429.2 93.1,429.5 C92.8,429.8 92.6,430.1 92.3,430.2 C92.0,430.4 91.6,430.5 91.3,430.5 C91.0,430.5 90.6,430.4 90.3,430.2 C90.0,430.1 89.8,429.8 89.5,429.5 C89.3,429.2 89.1,428.8 89.0,428.3 C88.9,427.9 88.8,427.4 88.8,427.0 C88.8,426.6 88.9,426.1 89.0,425.7 C89.1,425.2 89.3,424.8 89.5,424.5 C89.8,424.2 90.0,423.9 90.3,423.8 C90.6,423.6 91.0,423.5 91.3,423.5 C91.6,423.5 92.0,423.6 92.3,423.8 C92.6,423.9 92.8,424.2 93.1,424.5 C93.3,424.8 93.5,425.2 93.6,425.7 C93.7,426.1 93.8,426.6 93.8,427.0Z" fill="#f5a683"/>
<path d="M176.0,405.0 C177.8,402.0 180.6,403.2 185.0,401.8 C189.4,400.4 197.6,398.6 202.2,396.6 C206.8,394.6 208.2,391.1 212.5,389.7 C216.8,388.3 224.0,387.4 228.0,388.0 C232.0,388.6 234.0,391.8 236.6,393.2 C239.2,394.6 241.2,394.6 243.5,396.6 C245.8,398.6 248.3,402.6 250.4,405.2 C252.5,407.8 254.8,409.5 256.0,412.0 C257.1,414.5 257.7,417.6 257.3,420.0 C256.9,422.4 255.9,425.3 253.8,426.5 C251.8,427.7 247.8,428.1 245.0,427.0 C242.2,425.9 239.8,421.0 237.0,420.0 C234.2,419.0 231.1,420.3 228.0,421.0 C224.9,421.7 223.1,422.5 218.7,424.0 C214.3,425.5 206.3,428.0 201.5,430.0 C196.7,432.0 193.2,434.7 190.0,436.0 C186.8,437.3 184.3,438.7 182.0,438.0 C179.7,437.3 177.3,435.0 176.0,432.0 C174.7,429.0 174.0,424.5 174.0,420.0 C174.0,415.5 174.2,408.0 176.0,405.0Z" fill="#f5a683"/>
<path d="M253.5,390.0 C253.5,390.4 253.4,390.9 253.3,391.3 C253.2,391.8 253.0,392.2 252.8,392.5 C252.5,392.8 252.3,393.1 252.0,393.2 C251.7,393.4 251.3,393.5 251.0,393.5 C250.7,393.5 250.3,393.4 250.0,393.2 C249.7,393.1 249.5,392.8 249.2,392.5 C249.0,392.2 248.8,391.8 248.7,391.3 C248.6,390.9 248.5,390.4 248.5,390.0 C248.5,389.6 248.6,389.1 248.7,388.7 C248.8,388.2 249.0,387.8 249.2,387.5 C249.5,387.2 249.7,386.9 250.0,386.8 C250.3,386.6 250.7,386.5 251.0,386.5 C251.3,386.5 251.7,386.6 252.0,386.8 C252.3,386.9 252.5,387.2 252.8,387.5 C253.0,387.8 253.2,388.2 253.3,388.7 C253.4,389.1 253.5,389.6 253.5,390.0Z" fill="#f5a683"/>
<path d="M196.0,358.0 C197.5,354.8 201.3,356.7 205.0,356.0 C208.7,355.3 214.7,353.3 218.0,354.0 C221.3,354.7 224.0,356.5 225.0,360.0 C226.0,363.5 224.8,371.2 224.0,375.0 C223.2,378.8 222.3,381.2 220.0,383.0 C217.7,384.8 213.3,385.8 210.0,386.0 C206.7,386.2 202.3,385.8 200.0,384.0 C197.7,382.2 196.7,379.3 196.0,375.0 C195.3,370.7 194.5,361.2 196.0,358.0Z" fill="#e6eef3"/>
<path d="M252.0,366.0 C253.3,364.7 258.2,366.3 262.0,368.0 C265.8,369.7 270.3,372.8 275.0,376.0 C279.7,379.2 286.3,383.8 290.0,387.0 C293.7,390.2 296.5,392.8 297.0,395.0 C297.5,397.2 295.8,399.3 293.0,400.0 C290.2,400.7 284.2,400.0 280.0,399.0 C275.8,398.0 271.3,396.2 268.0,394.0 C264.7,391.8 262.3,389.0 260.0,386.0 C257.7,383.0 255.3,379.3 254.0,376.0 C252.7,372.7 250.7,367.3 252.0,366.0Z" fill="#e6eef3"/>
<path d="M256.0,368.0 C257.7,367.2 265.2,372.2 270.0,375.0 C274.8,377.8 283.0,382.5 285.0,385.0 C287.0,387.5 284.5,389.8 282.0,390.0 C279.5,390.2 273.7,387.7 270.0,386.0 C266.3,384.3 262.3,383.0 260.0,380.0 C257.7,377.0 254.3,368.8 256.0,368.0Z" fill="#c6ddee"/>
<path d="M95.0,458.0 C97.5,452.2 105.3,461.0 110.0,460.0 C114.7,459.0 118.9,454.8 123.4,452.1 C127.9,449.5 132.8,447.2 136.8,444.1 C140.8,441.0 143.5,435.6 147.5,433.4 C151.5,431.2 156.4,430.2 160.9,430.7 C165.4,431.1 169.4,433.9 174.3,436.1 C179.2,438.3 186.1,442.3 190.4,444.1 C194.7,445.9 197.6,447.0 200.0,446.8 C202.4,446.6 202.5,444.8 205.0,443.0 C207.5,441.2 210.0,437.1 215.0,436.0 C220.0,434.9 229.5,435.8 235.0,436.5 C240.5,437.2 244.2,438.4 248.0,440.0 C251.8,441.6 255.7,443.5 258.0,446.0 C260.3,448.5 259.7,452.7 262.0,455.0 C264.3,457.3 268.7,459.5 272.0,460.0 C275.3,460.5 277.3,456.3 282.0,458.0 C286.7,459.7 302.0,463.8 300.0,470.0 C298.0,476.2 284.7,490.8 270.0,495.0 C255.3,499.2 222.8,498.3 212.0,495.0 C201.2,491.7 207.0,479.8 205.0,475.0 C203.0,470.2 202.4,466.9 200.0,466.0 C197.6,465.1 194.2,468.3 190.4,469.6 C186.6,470.9 181.5,472.3 177.0,473.6 C172.5,474.9 167.1,476.0 163.6,477.6 C160.1,479.2 157.9,480.1 156.0,483.0 C154.1,485.9 162.2,493.0 152.0,495.0 C141.8,497.0 104.5,501.2 95.0,495.0 C85.5,488.8 92.5,463.8 95.0,458.0Z" fill="#e6eef3"/>
<path d="M131.4,470.9 C131.4,466.7 133.7,459.1 136.8,453.5 C139.9,447.9 146.2,440.1 150.2,437.4 C154.2,434.7 158.0,435.4 160.9,437.4 C163.8,439.4 167.2,445.7 167.6,449.5 C168.0,453.3 165.4,456.2 163.6,460.2 C161.8,464.2 159.1,470.2 156.9,473.6 C154.7,477.0 153.5,479.4 150.2,480.3 C146.8,481.2 139.9,480.5 136.8,478.9 C133.7,477.3 131.4,475.1 131.4,470.9Z" fill="#c6ddee"/>
<path d="M139.5,470.9 C139.1,468.4 141.3,464.2 143.5,460.2 C145.7,456.2 150.6,448.8 152.9,446.8 C155.2,444.8 156.6,446.3 157.5,448.1 C158.4,449.9 159.0,453.7 158.2,457.5 C157.4,461.3 154.9,468.0 152.9,470.9 C150.9,473.8 148.4,474.9 146.2,474.9 C144.0,474.9 139.9,473.3 139.5,470.9Z" fill="#9cc8e2"/>
<path d="M177.0,449.5 C178.1,447.4 182.6,446.8 185.0,447.5 C187.4,448.2 190.6,450.9 191.7,453.5 C192.8,456.1 192.8,460.9 191.7,462.9 C190.6,464.9 187.2,465.9 185.0,465.5 C182.8,465.1 179.6,462.9 178.3,460.2 C177.0,457.5 175.9,451.6 177.0,449.5Z" fill="#c6ddee"/>
<path d="M212.9,443.7 C214.8,440.8 221.3,439.6 224.4,440.8 C227.5,442.0 229.9,446.7 231.6,450.8 C233.3,454.9 234.4,460.9 234.4,465.2 C234.4,469.5 233.5,474.0 231.6,476.6 C229.7,479.2 225.6,481.6 223.0,480.9 C220.4,480.2 217.5,476.1 215.8,472.3 C214.1,468.5 213.4,462.8 212.9,458.0 C212.4,453.2 211.0,446.6 212.9,443.7Z" fill="#c6ddee"/>
</g>
<g fill="none" stroke="#9a9a9a" stroke-width="0.45" stroke-linejoin="round">
<path d="M252.4,404.2 L258.6,403.5 L264.8,405.8 L272.6,404.2 L278.9,405.8 L283.6,407.3 L288.1,404.2 L292.8,401.1"/>
<path d="M272.6,399.6 L277.2,396.5 L281.9,391.8 L280.4,388.6 L285.1,385.6 L288.6,387.4 L292.7,384.4"/>
<path d="M264.8,415.1 L269.5,419.8 L271.0,427.6 L277.2,429.1 L283.6,427.6 L289.8,424.4 L294.4,416.7 L299.0,412.0 L305.3,405.8"/>
<path d="M249.3,430.7 L257.0,427.6 L264.8,427.6 L269.5,432.3 L274.2,432.3"/>
<path d="M88.9,395.6 L94.3,391.6 L101.1,395.6 L105.2,399.8 L112.0,402.5"/>
<path d="M113.4,378.0 L118.8,375.3 L122.9,379.4 L126.9,376.6 L131.0,380.7 L133.8,388.9 L137.8,394.3 L140.6,402.5 L137.8,410.7 L140.6,418.8"/>
<path d="M140.6,367.2 L144.6,372.5 L148.7,369.8 L150.1,375.3 L146.1,382.1"/>
<path d="M67.7,399.8 L75.1,398.3 L84.1,399.8 L91.5,399.8 L97.4,396.9 L101.9,395.3"/>
<path d="M60.3,407.2 L63.2,413.1 L61.8,420.6 L64.8,425.1"/>
<path d="M93.0,413.1 L99.0,410.2 L104.9,411.7 L112.3,410.2 L116.8,413.1 L124.2,411.7"/>
<path d="M124.2,387.9 L128.7,389.4 L134.6,386.4 L140.5,389.4 L143.5,385.0"/>
<path d="M134.6,402.8 L137.5,408.7 L140.5,413.1 L143.5,420.6"/>
<path d="M106.5,363.0 L110.6,367.1 L115.6,365.0 L118.7,369.1 L124.8,367.1"/>
<path d="M152.3,358.9 L157.4,363.0 L163.5,360.9 L167.5,366.0"/>
<path d="M240.8,420.0 L244.9,424.0 L249.0,422.0 L253.0,426.1"/>
</g>
<g fill="url(#dots)" opacity="0.75">
<path d="M88.0,378.0 C90.5,375.8 94.3,375.2 98.0,375.0 C101.7,374.8 106.0,376.8 110.0,377.0 C114.0,377.2 117.9,377.2 122.0,376.0 C126.1,374.8 130.6,369.8 134.6,370.0 C138.6,370.2 142.7,374.2 146.0,377.3 C149.3,380.4 152.3,385.5 154.7,388.8 C157.1,392.1 158.7,396.0 160.4,397.3 C162.1,398.6 164.0,395.3 165.1,396.6 C166.2,397.9 167.4,402.3 166.8,405.2 C166.2,408.1 163.6,410.4 161.6,413.8 C159.6,417.2 157.0,422.9 154.7,425.9 C152.4,428.9 151.3,430.3 148.0,432.0 C144.7,433.7 139.0,434.0 135.0,436.0 C131.0,438.0 127.1,442.3 124.0,444.0 C120.9,445.7 118.5,445.4 116.5,446.0 C114.5,446.6 114.5,447.1 111.9,447.6 C109.4,448.1 106.0,449.4 101.2,449.1 C96.4,448.8 88.0,447.8 82.9,446.0 C77.8,444.2 73.4,441.1 70.6,438.4 C67.8,435.7 66.6,432.9 65.8,430.0 C65.0,427.1 64.6,422.8 66.0,420.7 C67.4,418.6 70.7,419.0 74.4,417.3 C78.1,415.6 85.1,412.4 88.2,410.4 C91.3,408.4 92.7,407.5 93.3,405.2 C93.9,402.9 93.3,399.5 91.6,396.6 C89.9,393.7 83.6,391.1 83.0,388.0 C82.4,384.9 85.5,380.2 88.0,378.0Z"/>
<path d="M166.0,396.0 C166.8,393.9 169.6,393.3 172.8,392.3 C176.0,391.3 181.1,390.2 185.0,390.0 C188.9,389.8 192.6,391.3 196.0,391.0 C199.4,390.7 202.8,389.5 205.7,388.4 C208.6,387.3 211.0,385.1 213.6,384.4 C216.2,383.7 218.3,386.8 221.0,384.0 C223.7,381.2 226.2,370.8 229.7,367.4 C233.2,364.0 238.4,363.1 241.8,363.9 C245.2,364.7 247.6,369.0 250.0,372.0 C252.4,375.0 253.8,378.2 256.0,382.0 C258.2,385.8 260.1,391.1 263.4,394.5 C266.7,397.9 271.0,400.1 275.6,402.1 C280.2,404.1 287.3,404.9 290.9,406.7 C294.5,408.5 296.5,409.5 297.0,412.8 C297.5,416.1 296.3,423.0 294.0,426.6 C291.7,430.2 287.6,432.4 283.2,434.2 C278.8,436.0 273.0,436.8 267.9,437.3 C262.8,437.8 257.2,437.1 252.6,437.0 C247.9,436.9 243.8,436.7 240.0,436.5 C236.2,436.3 234.2,436.2 230.0,436.0 C225.8,435.8 220.0,434.8 215.0,435.0 C210.0,435.2 204.2,436.5 200.0,437.0 C195.8,437.5 193.3,438.2 190.0,438.0 C186.7,437.8 183.3,437.0 180.0,436.0 C176.7,435.0 172.3,434.7 170.0,432.0 C167.7,429.3 166.3,424.5 166.0,420.0 C165.7,415.5 168.0,409.0 168.0,405.0 C168.0,401.0 165.2,398.1 166.0,396.0Z"/>
<path d="M131.4,470.9 C131.4,466.7 133.7,459.1 136.8,453.5 C139.9,447.9 146.2,440.1 150.2,437.4 C154.2,434.7 158.0,435.4 160.9,437.4 C163.8,439.4 167.2,445.7 167.6,449.5 C168.0,453.3 165.4,456.2 163.6,460.2 C161.8,464.2 159.1,470.2 156.9,473.6 C154.7,477.0 153.5,479.4 150.2,480.3 C146.8,481.2 139.9,480.5 136.8,478.9 C133.7,477.3 131.4,475.1 131.4,470.9Z"/>
<path d="M212.9,443.7 C214.8,440.8 221.3,439.6 224.4,440.8 C227.5,442.0 229.9,446.7 231.6,450.8 C233.3,454.9 234.4,460.9 234.4,465.2 C234.4,469.5 233.5,474.0 231.6,476.6 C229.7,479.2 225.6,481.6 223.0,480.9 C220.4,480.2 217.5,476.1 215.8,472.3 C214.1,468.5 213.4,462.8 212.9,458.0 C212.4,453.2 211.0,446.6 212.9,443.7Z"/>
</g>
<g fill="none" stroke="#2a2a2a" stroke-width="0.55">
<path d="M192.0,370.0 C192.0,371.0 191.7,372.1 191.1,373.1 C190.5,374.0 189.6,374.9 188.5,375.7 C187.4,376.4 186.0,377.0 184.6,377.4 C183.2,377.8 181.5,378.0 180.0,378.0 C178.5,378.0 176.8,377.8 175.4,377.4 C174.0,377.0 172.6,376.4 171.5,375.7 C170.4,374.9 169.5,374.0 168.9,373.1 C168.3,372.1 168.0,371.0 168.0,370.0 C168.0,369.0 168.3,367.9 168.9,366.9 C169.5,366.0 170.4,365.1 171.5,364.3 C172.6,363.6 174.0,363.0 175.4,362.6 C176.8,362.2 178.5,362.0 180.0,362.0 C181.5,362.0 183.2,362.2 184.6,362.6 C186.0,363.0 187.4,363.6 188.5,364.3 C189.6,365.1 190.5,366.0 191.1,366.9 C191.7,367.9 192.0,369.0 192.0,370.0Z" stroke-dasharray="3.4,2"/>
<path d="M203.0,372.0 C203.0,374.0 202.3,376.2 201.0,378.1 C199.8,380.0 197.7,381.9 195.4,383.3 C193.0,384.8 190.0,386.0 186.9,386.8 C183.9,387.6 180.3,388.0 177.0,388.0 C173.7,388.0 170.1,387.6 167.1,386.8 C164.0,386.0 161.0,384.8 158.6,383.3 C156.3,381.9 154.2,380.0 153.0,378.1 C151.7,376.2 151.0,374.0 151.0,372.0 C151.0,370.0 151.7,367.8 153.0,365.9 C154.2,364.0 156.3,362.1 158.6,360.7 C161.0,359.2 164.0,358.0 167.1,357.2 C170.1,356.4 173.7,356.0 177.0,356.0 C180.3,356.0 183.9,356.4 186.9,357.2 C190.0,358.0 193.0,359.2 195.4,360.7 C197.7,362.1 199.8,364.0 201.0,365.9 C202.3,367.8 203.0,370.0 203.0,372.0Z" stroke-dasharray="3.4,2"/>
<path d="M216.0,375.0 C216.0,378.2 214.9,381.6 212.8,384.6 C210.8,387.5 207.5,390.4 203.7,392.7 C199.9,394.9 195.0,396.9 190.1,398.1 C185.1,399.3 179.4,400.0 174.0,400.0 C168.6,400.0 162.9,399.3 157.9,398.1 C153.0,396.9 148.1,394.9 144.3,392.7 C140.5,390.4 137.2,387.5 135.2,384.6 C133.1,381.6 132.0,378.2 132.0,375.0 C132.0,371.8 133.1,368.4 135.2,365.4 C137.2,362.5 140.5,359.6 144.3,357.3 C148.1,355.1 153.0,353.1 157.9,351.9 C162.9,350.7 168.6,350.0 174.0,350.0 C179.4,350.0 185.1,350.7 190.1,351.9 C195.0,353.1 199.9,355.1 203.7,357.3 C207.5,359.6 210.8,362.5 212.8,365.4 C214.9,368.4 216.0,371.8 216.0,375.0Z" stroke-dasharray="3.4,2"/>
<path d="M230.0,378.0 C230.0,382.6 228.4,387.5 225.4,391.8 C222.5,396.0 217.8,400.2 212.4,403.5 C207.0,406.7 200.0,409.5 193.0,411.3 C185.9,413.0 177.7,414.0 170.0,414.0 C162.3,414.0 154.1,413.0 147.0,411.3 C140.0,409.5 133.0,406.7 127.6,403.5 C122.2,400.2 117.5,396.0 114.6,391.8 C111.6,387.5 110.0,382.6 110.0,378.0 C110.0,373.4 111.6,368.5 114.6,364.2 C117.5,360.0 122.2,355.8 127.6,352.5 C133.0,349.3 140.0,346.5 147.0,344.7 C154.1,343.0 162.3,342.0 170.0,342.0 C177.7,342.0 185.9,343.0 193.0,344.7 C200.0,346.5 207.0,349.3 212.4,352.5 C217.8,355.8 222.5,360.0 225.4,364.2 C228.4,368.5 230.0,373.4 230.0,378.0Z" stroke-dasharray="3.4,2"/>
<path d="M272.0,433.0 C272.0,434.1 271.7,435.4 271.2,436.4 C270.8,437.5 270.0,438.6 269.1,439.4 C268.2,440.2 267.0,440.9 265.8,441.3 C264.6,441.8 263.3,442.0 262.0,442.0 C260.7,442.0 259.4,441.8 258.2,441.3 C257.0,440.9 255.8,440.2 254.9,439.4 C254.0,438.6 253.2,437.5 252.8,436.4 C252.3,435.4 252.0,434.1 252.0,433.0 C252.0,431.9 252.3,430.6 252.8,429.6 C253.2,428.5 254.0,427.4 254.9,426.6 C255.8,425.8 257.0,425.1 258.2,424.7 C259.4,424.2 260.7,424.0 262.0,424.0 C263.3,424.0 264.6,424.2 265.8,424.7 C267.0,425.1 268.2,425.8 269.1,426.6 C270.0,427.4 270.8,428.5 271.2,429.6 C271.7,430.6 272.0,431.9 272.0,433.0Z" stroke-dasharray="3.4,2"/>
<path d="M184.9,412.0 C187.1,408.8 193.2,405.3 198.3,402.4 C203.4,399.5 210.4,396.3 215.5,394.7 C220.6,393.1 226.0,391.5 228.9,392.8 C231.8,394.1 233.3,398.9 232.7,402.4 C232.0,405.9 228.8,410.4 225.0,413.9 C221.2,417.4 215.1,421.2 209.7,423.4 C204.3,425.6 196.6,427.6 192.5,427.3 C188.4,427.0 186.2,424.1 184.9,421.5 C183.6,418.9 182.7,415.2 184.9,412.0Z"/>
<path d="M217.4,350.0 C216.8,353.9 216.2,367.2 213.6,373.7 C211.0,380.2 206.6,384.5 202.1,389.0 C197.6,393.5 191.0,397.0 186.8,400.5 C182.7,404.0 178.5,406.5 177.2,410.0 C175.9,413.5 176.2,418.3 179.1,421.5 C182.0,424.7 188.0,428.2 194.4,429.2 C200.8,430.2 211.0,429.2 217.4,427.3 C223.8,425.4 228.2,421.9 232.7,417.7 C237.2,413.5 241.0,408.1 244.2,402.4 C247.4,396.7 250.2,389.0 251.8,383.3 C253.4,377.6 253.3,372.7 253.7,368.0 C254.1,363.3 253.9,357.2 254.0,355.0"/>
<path d="M208.0,350.0 C207.3,354.6 206.9,370.4 204.0,377.5 C201.1,384.6 195.4,388.0 190.6,392.8 C185.8,397.6 178.5,401.4 175.3,406.2 C172.1,411.0 170.9,416.7 171.5,421.5 C172.1,426.3 174.6,432.0 179.1,434.9 C183.6,437.8 191.3,438.7 198.3,438.7 C205.3,438.7 214.2,437.8 221.2,434.9 C228.2,432.0 234.7,426.6 240.4,421.5 C246.2,416.4 251.9,410.7 255.7,404.3 C259.5,397.9 261.4,388.4 263.3,383.3 C265.2,378.2 266.0,377.2 267.1,373.7 C268.2,370.1 269.5,363.9 270.0,362.0"/>
<path d="M200.0,352.0 C199.0,356.7 197.3,372.7 194.0,380.0 C190.7,387.3 184.7,391.0 180.0,396.0 C175.3,401.0 169.0,405.2 166.0,410.0 C163.0,414.8 161.0,419.5 162.0,425.0 C163.0,430.5 166.0,439.0 172.0,443.0 C178.0,447.0 189.0,448.8 198.0,449.0 C207.0,449.2 217.7,447.5 226.0,444.0 C234.3,440.5 241.7,434.0 248.0,428.0 C254.3,422.0 259.8,414.7 264.0,408.0 C268.2,401.3 270.7,394.0 273.0,388.0 C275.3,382.0 277.2,374.7 278.0,372.0"/>
</g>
<g stroke="#000" fill="#000" stroke-linecap="butt">
<line x1="115.7" y1="369.1" x2="117.6" y2="373.6" stroke-width="0.71"/><path d="M118.3,375.1 L116.6,373.5 L118.3,372.8Z"/>
<line x1="97.6" y1="378.6" x2="100.2" y2="382.4" stroke-width="0.69"/><path d="M101.1,383.7 L99.2,382.5 L100.6,381.5Z"/>
<line x1="110.6" y1="383.7" x2="113.2" y2="386.9" stroke-width="0.66"/><path d="M114.0,388.0 L112.2,387.0 L113.5,386.0Z"/>
<line x1="124.0" y1="382.5" x2="126.6" y2="385.7" stroke-width="0.66"/><path d="M127.5,386.8 L125.7,385.8 L126.9,384.8Z"/>
<line x1="91.6" y1="392.3" x2="93.6" y2="395.5" stroke-width="0.64"/><path d="M94.2,396.6 L92.6,395.5 L94.0,394.7Z"/>
<line x1="103.7" y1="394.9" x2="106.2" y2="398.1" stroke-width="0.66"/><path d="M107.1,399.2 L105.3,398.2 L106.6,397.2Z"/>
<line x1="117.2" y1="397.0" x2="121.0" y2="400.2" stroke-width="0.71"/><path d="M122.3,401.3 L120.1,400.6 L121.2,399.2Z"/>
<line x1="76.1" y1="403.5" x2="78.0" y2="407.4" stroke-width="0.67"/><path d="M78.7,408.7 L77.1,407.3 L78.6,406.6Z"/>
<line x1="89.9" y1="406.1" x2="91.9" y2="409.3" stroke-width="0.64"/><path d="M92.5,410.4 L90.9,409.3 L92.3,408.5Z"/>
<line x1="101.1" y1="410.4" x2="104.3" y2="413.6" stroke-width="0.69"/><path d="M105.4,414.7 L103.4,413.9 L104.6,412.7Z"/>
<line x1="113.7" y1="411.3" x2="117.9" y2="414.2" stroke-width="0.72"/><path d="M119.3,415.2 L117.0,414.7 L118.0,413.2Z"/>
<line x1="52.9" y1="414.7" x2="55.4" y2="418.6" stroke-width="0.69"/><path d="M56.3,419.9 L54.5,418.6 L55.9,417.7Z"/>
<line x1="66.7" y1="413.0" x2="69.2" y2="416.8" stroke-width="0.69"/><path d="M70.1,418.1 L68.3,416.9 L69.7,415.9Z"/>
<line x1="79.3" y1="423.2" x2="83.2" y2="427.7" stroke-width="0.77"/><path d="M84.5,429.2 L82.1,428.0 L83.6,426.7Z"/>
<line x1="91.8" y1="420.4" x2="95.8" y2="424.1" stroke-width="0.74"/><path d="M97.1,425.3 L94.8,424.4 L96.0,423.1Z"/>
<line x1="105.6" y1="424.0" x2="109.6" y2="427.3" stroke-width="0.72"/><path d="M110.9,428.4 L108.6,427.7 L109.8,426.3Z"/>
<line x1="118.9" y1="426.2" x2="123.1" y2="429.3" stroke-width="0.73"/><path d="M124.5,430.3 L122.2,429.7 L123.2,428.3Z"/>
<line x1="66.3" y1="426.8" x2="69.7" y2="430.7" stroke-width="0.72"/><path d="M70.8,432.0 L68.7,430.9 L70.0,429.7Z"/>
<line x1="55.5" y1="404.4" x2="56.2" y2="405.3" stroke-width="0.60"/><path d="M56.4,405.6 L55.4,405.2 L56.3,404.5Z"/>
<line x1="67.5" y1="396.6" x2="68.2" y2="397.5" stroke-width="0.60"/><path d="M68.4,397.8 L67.4,397.4 L68.3,396.7Z"/>
<line x1="78.7" y1="389.7" x2="79.4" y2="390.6" stroke-width="0.60"/><path d="M79.6,390.9 L78.6,390.5 L79.5,389.8Z"/>
<line x1="76.7" y1="436.8" x2="81.4" y2="441.4" stroke-width="0.81"/><path d="M82.9,443.0 L80.3,441.8 L81.7,440.4Z"/>
<line x1="89.7" y1="436.8" x2="94.9" y2="440.8" stroke-width="0.81"/><path d="M96.6,442.2 L93.9,441.3 L95.1,439.7Z"/>
<line x1="102.8" y1="439.1" x2="107.9" y2="442.6" stroke-width="0.79"/><path d="M109.6,443.7 L106.9,443.1 L108.0,441.5Z"/>
<line x1="117.3" y1="441.7" x2="122.5" y2="444.4" stroke-width="0.77"/><path d="M124.2,445.3 L121.6,445.0 L122.5,443.3Z"/>
<line x1="94.3" y1="450.6" x2="100.7" y2="454.6" stroke-width="0.87"/><path d="M102.8,456.0 L99.7,455.3 L100.8,453.4Z"/>
<line x1="107.4" y1="455.2" x2="113.1" y2="458.1" stroke-width="0.80"/><path d="M115.0,459.0 L112.2,458.7 L113.1,456.9Z"/>
<line x1="121.2" y1="456.1" x2="126.7" y2="458.2" stroke-width="0.77"/><path d="M128.5,458.9 L125.9,458.9 L126.6,457.1Z"/>
<line x1="125.2" y1="469.9" x2="129.2" y2="471.6" stroke-width="0.67"/><path d="M130.5,472.1 L128.4,472.1 L129.0,470.6Z"/>
<line x1="111.7" y1="384.6" x2="113.0" y2="386.6" stroke-width="0.60"/><path d="M113.4,387.2 L112.2,386.5 L113.2,385.8Z"/>
<line x1="136.7" y1="384.6" x2="139.2" y2="386.6" stroke-width="0.60"/><path d="M140.1,387.2 L138.4,386.8 L139.3,385.7Z"/>
<line x1="153.8" y1="390.0" x2="157.2" y2="391.5" stroke-width="0.63"/><path d="M158.3,392.0 L156.4,392.0 L157.0,390.6Z"/>
<line x1="129.8" y1="397.5" x2="134.3" y2="400.1" stroke-width="0.72"/><path d="M135.8,400.9 L133.4,400.6 L134.3,399.0Z"/>
<line x1="143.1" y1="399.0" x2="148.9" y2="401.8" stroke-width="0.81"/><path d="M150.9,402.7 L148.1,402.5 L148.9,400.6Z"/>
<line x1="160.6" y1="403.5" x2="167.3" y2="404.9" stroke-width="0.83"/><path d="M169.5,405.3 L166.6,405.8 L167.0,403.7Z"/>
<line x1="173.2" y1="398.2" x2="178.8" y2="398.7" stroke-width="0.75"/><path d="M180.7,398.8 L178.3,399.5 L178.4,397.7Z"/>
<line x1="185.5" y1="397.8" x2="193.6" y2="397.8" stroke-width="0.91"/><path d="M196.3,397.8 L193.1,399.0 L193.1,396.6Z"/>
<line x1="127.2" y1="411.3" x2="132.4" y2="413.2" stroke-width="0.74"/><path d="M134.1,413.8 L131.6,413.9 L132.2,412.1Z"/>
<line x1="140.1" y1="414.7" x2="145.3" y2="416.0" stroke-width="0.73"/><path d="M147.0,416.4 L144.6,416.7 L145.0,415.0Z"/>
<line x1="153.0" y1="413.8" x2="159.5" y2="415.2" stroke-width="0.81"/><path d="M161.6,415.6 L158.8,416.0 L159.2,414.0Z"/>
<line x1="165.1" y1="414.7" x2="175.4" y2="415.4" stroke-width="1.05"/><path d="M178.8,415.6 L174.8,416.7 L175.0,414.0Z"/>
<line x1="178.0" y1="410.4" x2="187.7" y2="410.6" stroke-width="1.01"/><path d="M190.9,410.7 L187.1,411.9 L187.2,409.3Z"/>
<line x1="190.9" y1="410.7" x2="202.6" y2="409.2" stroke-width="1.14"/><path d="M206.5,408.7 L202.3,410.7 L201.9,407.8Z"/>
<line x1="185.7" y1="423.3" x2="196.4" y2="422.2" stroke-width="1.08"/><path d="M200.0,421.8 L196.1,423.6 L195.8,420.9Z"/>
<line x1="132.2" y1="425.2" x2="137.3" y2="426.8" stroke-width="0.73"/><path d="M139.0,427.3 L136.6,427.5 L137.1,425.8Z"/>
<line x1="144.3" y1="428.0" x2="150.1" y2="429.0" stroke-width="0.77"/><path d="M152.1,429.4 L149.5,429.9 L149.8,428.0Z"/>
<line x1="155.9" y1="428.6" x2="164.4" y2="429.2" stroke-width="0.93"/><path d="M167.2,429.4 L163.8,430.3 L164.0,428.0Z"/>
<line x1="169.2" y1="428.6" x2="179.8" y2="428.6" stroke-width="1.07"/><path d="M183.4,428.6 L179.3,430.0 L179.3,427.2Z"/>
<line x1="155.6" y1="381.1" x2="157.5" y2="381.8" stroke-width="0.60"/><path d="M158.2,382.0 L156.9,382.2 L157.3,381.0Z"/>
<line x1="185.0" y1="436.1" x2="195.1" y2="435.9" stroke-width="1.03"/><path d="M198.4,435.8 L194.6,437.2 L194.5,434.6Z"/>
<line x1="130.1" y1="439.4" x2="136.1" y2="441.4" stroke-width="0.80"/><path d="M138.1,442.1 L135.3,442.2 L135.9,440.3Z"/>
<line x1="144.2" y1="441.4" x2="151.2" y2="443.2" stroke-width="0.85"/><path d="M153.5,443.8 L150.4,444.1 L151.0,442.0Z"/>
<line x1="158.2" y1="442.8" x2="166.2" y2="443.6" stroke-width="0.91"/><path d="M168.9,443.8 L165.6,444.6 L165.8,442.4Z"/>
<line x1="171.6" y1="441.4" x2="180.7" y2="441.4" stroke-width="0.97"/><path d="M183.7,441.4 L180.2,442.6 L180.2,440.2Z"/>
<line x1="134.1" y1="455.5" x2="139.7" y2="457.0" stroke-width="0.76"/><path d="M141.5,457.5 L138.9,457.8 L139.4,456.0Z"/>
<line x1="148.2" y1="456.2" x2="154.2" y2="457.7" stroke-width="0.79"/><path d="M156.2,458.2 L153.5,458.5 L154.0,456.6Z"/>
<line x1="162.2" y1="456.2" x2="167.8" y2="457.2" stroke-width="0.75"/><path d="M169.6,457.5 L167.1,458.0 L167.4,456.2Z"/>
<line x1="176.3" y1="455.1" x2="181.8" y2="455.4" stroke-width="0.75"/><path d="M183.7,455.5 L181.3,456.3 L181.4,454.4Z"/>
<line x1="189.9" y1="454.3" x2="194.2" y2="455.1" stroke-width="0.68"/><path d="M195.7,455.3 L193.6,455.8 L193.9,454.1Z"/>
<line x1="138.8" y1="470.9" x2="142.3" y2="472.7" stroke-width="0.65"/><path d="M143.5,473.3 L141.5,473.2 L142.2,471.8Z"/>
<line x1="152.2" y1="470.9" x2="155.2" y2="472.4" stroke-width="0.61"/><path d="M156.2,472.9 L154.4,472.8 L155.1,471.5Z"/>
<line x1="183.7" y1="469.0" x2="185.7" y2="469.5" stroke-width="0.60"/><path d="M186.4,469.7 L185.1,470.0 L185.4,468.8Z"/>
<line x1="194.4" y1="476.9" x2="195.9" y2="477.4" stroke-width="0.60"/><path d="M196.4,477.6 L195.2,477.8 L195.6,476.7Z"/>
<line x1="221.7" y1="366.6" x2="225.1" y2="364.7" stroke-width="0.64"/><path d="M226.2,364.0 L225.0,365.6 L224.2,364.2Z"/>
<line x1="234.9" y1="371.7" x2="237.5" y2="369.8" stroke-width="0.60"/><path d="M238.3,369.1 L237.5,370.6 L236.6,369.5Z"/>
<line x1="250.4" y1="372.5" x2="252.3" y2="369.9" stroke-width="0.60"/><path d="M253.0,369.1 L252.6,370.8 L251.5,369.9Z"/>
<line x1="206.0" y1="379.3" x2="210.2" y2="377.9" stroke-width="0.68"/><path d="M211.6,377.4 L210.0,378.8 L209.5,377.2Z"/>
<line x1="218.7" y1="381.1" x2="223.7" y2="378.4" stroke-width="0.76"/><path d="M225.4,377.5 L223.7,379.5 L222.8,377.8Z"/>
<line x1="234.0" y1="385.4" x2="237.9" y2="382.8" stroke-width="0.69"/><path d="M239.2,382.0 L237.9,383.8 L237.0,382.4Z"/>
<line x1="247.9" y1="385.8" x2="250.4" y2="383.9" stroke-width="0.60"/><path d="M251.2,383.3 L250.4,384.8 L249.5,383.7Z"/>
<line x1="265.2" y1="381.1" x2="266.5" y2="379.2" stroke-width="0.60"/><path d="M266.9,378.6 L266.7,380.0 L265.7,379.3Z"/>
<line x1="197.0" y1="389.3" x2="202.6" y2="388.3" stroke-width="0.76"/><path d="M204.5,388.0 L202.3,389.3 L202.0,387.5Z"/>
<line x1="213.9" y1="394.0" x2="221.4" y2="391.2" stroke-width="0.90"/><path d="M223.9,390.2 L221.3,392.4 L220.5,390.3Z"/>
<line x1="259.9" y1="394.0" x2="261.8" y2="393.0" stroke-width="0.60"/><path d="M262.5,392.6 L261.7,393.8 L261.1,392.6Z"/>
<line x1="203.5" y1="402.7" x2="212.9" y2="400.2" stroke-width="1.01"/><path d="M216.1,399.3 L212.8,401.5 L212.1,399.0Z"/>
<line x1="224.0" y1="402.3" x2="230.0" y2="400.6" stroke-width="0.79"/><path d="M232.0,400.0 L229.8,401.7 L229.2,399.8Z"/>
<line x1="240.1" y1="396.6" x2="242.7" y2="395.6" stroke-width="0.60"/><path d="M243.5,395.2 L242.4,396.4 L241.9,395.1Z"/>
<line x1="249.9" y1="404.8" x2="252.1" y2="403.6" stroke-width="0.60"/><path d="M252.8,403.2 L252.0,404.4 L251.3,403.3Z"/>
<line x1="213.4" y1="412.1" x2="222.4" y2="410.1" stroke-width="0.98"/><path d="M225.4,409.5 L222.2,411.5 L221.6,409.0Z"/>
<line x1="236.6" y1="409.5" x2="241.1" y2="408.6" stroke-width="0.69"/><path d="M242.6,408.3 L240.8,409.5 L240.4,407.9Z"/>
<line x1="201.3" y1="420.7" x2="212.3" y2="419.2" stroke-width="1.10"/><path d="M216.0,418.7 L212.0,420.7 L211.6,417.9Z"/>
<line x1="227.6" y1="420.1" x2="233.2" y2="419.1" stroke-width="0.75"/><path d="M235.0,418.8 L232.8,420.1 L232.5,418.3Z"/>
<line x1="215.9" y1="427.7" x2="223.2" y2="426.4" stroke-width="0.86"/><path d="M225.6,426.0 L222.9,427.6 L222.5,425.4Z"/>
<line x1="203.5" y1="433.2" x2="211.3" y2="432.4" stroke-width="0.89"/><path d="M213.9,432.2 L210.9,433.6 L210.7,431.4Z"/>
<line x1="240.0" y1="427.6" x2="242.2" y2="427.4" stroke-width="0.60"/><path d="M243.0,427.3 L241.8,428.1 L241.7,426.8Z"/>
<line x1="248.8" y1="418.2" x2="251.1" y2="417.6" stroke-width="0.60"/><path d="M251.9,417.4 L250.8,418.4 L250.5,417.1Z"/>
<line x1="241.6" y1="428.6" x2="244.3" y2="428.3" stroke-width="0.60"/><path d="M245.2,428.2 L243.9,429.0 L243.7,427.7Z"/>
<line x1="247.0" y1="417.6" x2="249.7" y2="417.2" stroke-width="0.60"/><path d="M250.6,417.1 L249.3,418.0 L249.1,416.6Z"/>
<line x1="228.7" y1="437.6" x2="232.4" y2="437.3" stroke-width="0.64"/><path d="M233.7,437.2 L232.0,438.1 L231.9,436.6Z"/>
<line x1="199.3" y1="445.1" x2="205.2" y2="445.3" stroke-width="0.77"/><path d="M207.2,445.4 L204.7,446.3 L204.8,444.3Z"/>
<line x1="215.1" y1="445.1" x2="219.4" y2="444.6" stroke-width="0.67"/><path d="M220.8,444.4 L219.0,445.5 L218.8,443.8Z"/>
<line x1="210.8" y1="457.3" x2="212.9" y2="457.3" stroke-width="0.60"/><path d="M213.6,457.3 L212.4,457.9 L212.4,456.7Z"/>
<line x1="225.0" y1="456.6" x2="227.2" y2="456.6" stroke-width="0.60"/><path d="M228.0,456.6 L226.8,457.2 L226.8,456.0Z"/>
<line x1="200.0" y1="465.2" x2="202.2" y2="465.2" stroke-width="0.60"/><path d="M202.9,465.2 L201.7,465.8 L201.7,464.6Z"/>
<line x1="240.2" y1="460.1" x2="241.3" y2="460.1" stroke-width="0.60"/><path d="M241.8,460.1 L240.8,460.7 L240.8,459.5Z"/>
<line x1="242.3" y1="447.2" x2="243.4" y2="447.2" stroke-width="0.60"/><path d="M243.9,447.2 L242.9,447.8 L242.9,446.6Z"/>
<line x1="210.0" y1="475.0" x2="211.1" y2="475.0" stroke-width="0.60"/><path d="M211.6,475.0 L210.6,475.6 L210.6,474.4Z"/>
<line x1="291.0" y1="403.0" x2="291.2" y2="404.1" stroke-width="0.60"/><path d="M291.3,404.6 L290.5,403.8 L291.7,403.5Z"/>
<line x1="283.5" y1="423.5" x2="283.9" y2="424.6" stroke-width="0.60"/><path d="M284.0,425.1 L283.1,424.3 L284.3,424.0Z"/>
<line x1="286.0" y1="438.0" x2="286.4" y2="439.1" stroke-width="0.60"/><path d="M286.5,439.6 L285.6,438.8 L286.8,438.5Z"/>
<line x1="255.6" y1="432.7" x2="256.7" y2="432.7" stroke-width="0.60"/><path d="M257.0,432.7 L256.2,433.3 L256.2,432.1Z"/>
<line x1="271.0" y1="437.0" x2="271.8" y2="436.6" stroke-width="0.60"/><path d="M272.0,436.5 L271.7,437.3 L271.1,436.3Z"/>
<line x1="147.9" y1="376.5" x2="150.4" y2="378.0" stroke-width="0.60"/><path d="M151.2,378.5 L149.6,378.3 L150.3,377.1Z"/>
<line x1="166.3" y1="384.4" x2="168.8" y2="385.4" stroke-width="0.60"/><path d="M169.6,385.7 L168.1,385.8 L168.6,384.6Z"/>
<line x1="180.7" y1="385.7" x2="184.2" y2="386.5" stroke-width="0.62"/><path d="M185.3,386.8 L183.5,387.1 L183.8,385.7Z"/>
<line x1="176.0" y1="374.0" x2="177.5" y2="374.2" stroke-width="0.60"/><path d="M178.0,374.3 L176.9,374.7 L177.1,373.6Z"/>
<line x1="192.5" y1="376.0" x2="194.0" y2="376.5" stroke-width="0.60"/><path d="M194.5,376.7 L193.3,376.9 L193.7,375.8Z"/>
<line x1="207.0" y1="364.7" x2="208.0" y2="364.2" stroke-width="0.60"/><path d="M208.4,364.0 L207.8,365.0 L207.3,363.9Z"/>
</g>
</g>
<path d="M140.47,348.39 A50.17,50.17 0 0 0 224.13,348.39 L320.96,412.47 A166.28,166.28 0 0 1 43.64,412.47 Z" fill="none" stroke="#777" stroke-width="0.7"/>
<rect x="296.8" y="461" width="19.5" height="27" fill="#fff" stroke="#222" stroke-width="1"/>
<text x="306.6" y="470.8" font-size="9.8" text-anchor="middle">140</text>
<line x1="302.1" y1="478.2" x2="308.5" y2="478.2" stroke="#000" stroke-width="0.9"/><path d="M307.6,476.4 L311,478.2 L307.6,480 Z" fill="#000"/>
<path d="M58.3,507 L72.6,503.3 L72.6,510.8 Z" fill="#08306b"/>
<rect x="72.60" y="503.3" width="14.56" height="7.5" fill="#1a5a9e" stroke="#555" stroke-width="0.35"/>
<rect x="87.16" y="503.3" width="14.56" height="7.5" fill="#2f7dbc" stroke="#555" stroke-width="0.35"/>
<rect x="101.71" y="503.3" width="14.56" height="7.5" fill="#509bcd" stroke="#555" stroke-width="0.35"/>
<rect x="116.27" y="503.3" width="14.56" height="7.5" fill="#92c3e0" stroke="#555" stroke-width="0.35"/>
<rect x="130.82" y="503.3" width="14.56" height="7.5" fill="#c5def0" stroke="#555" stroke-width="0.35"/>
<rect x="145.38" y="503.3" width="14.56" height="7.5" fill="#e4edf3" stroke="#555" stroke-width="0.35"/>
<rect x="159.94" y="503.3" width="14.56" height="7.5" fill="#fdeee4" stroke="#555" stroke-width="0.35"/>
<rect x="174.49" y="503.3" width="14.56" height="7.5" fill="#fccdb4" stroke="#555" stroke-width="0.35"/>
<rect x="189.05" y="503.3" width="14.56" height="7.5" fill="#f6a582" stroke="#555" stroke-width="0.35"/>
<rect x="203.60" y="503.3" width="14.56" height="7.5" fill="#e5735a" stroke="#555" stroke-width="0.35"/>
<rect x="218.16" y="503.3" width="14.56" height="7.5" fill="#cd3c3c" stroke="#555" stroke-width="0.35"/>
<rect x="232.72" y="503.3" width="14.56" height="7.5" fill="#a51428" stroke="#555" stroke-width="0.35"/>
<path d="M247.27,503.3 L262.2,507 L247.27,510.8 Z" fill="#67001f"/>
<text x="72.60" y="522.4" font-size="12.5" text-anchor="middle">-6</text>
<text x="87.16" y="522.4" font-size="12.5" text-anchor="middle">-5</text>
<text x="101.71" y="522.4" font-size="12.5" text-anchor="middle">-4</text>
<text x="116.27" y="522.4" font-size="12.5" text-anchor="middle">-3</text>
<text x="130.82" y="522.4" font-size="12.5" text-anchor="middle">-2</text>
<text x="145.38" y="522.4" font-size="12.5" text-anchor="middle">-1</text>
<text x="159.94" y="522.4" font-size="12.5" text-anchor="middle">0</text>
<text x="174.49" y="522.4" font-size="12.5" text-anchor="middle">1</text>
<text x="189.05" y="522.4" font-size="12.5" text-anchor="middle">2</text>
<text x="203.60" y="522.4" font-size="12.5" text-anchor="middle">3</text>
<text x="218.16" y="522.4" font-size="12.5" text-anchor="middle">4</text>
<text x="232.72" y="522.4" font-size="12.5" text-anchor="middle">5</text>
<text x="247.27" y="522.4" font-size="12.5" text-anchor="middle">6</text>
<text x="268.8" y="518.5" font-size="12.5">[m s<tspan dy="-4" font-size="8.5">-1</tspan><tspan dy="4"> day</tspan><tspan dy="-4" font-size="8.5">-1</tspan><tspan dy="4">]</tspan></text>
<rect x="408.3" y="98.4" width="209.2" height="315.0" fill="none" stroke="#333" stroke-width="1"/>
<line x1="408.3" y1="308.4" x2="617.5" y2="308.4" stroke="#333" stroke-width="1"/>
<line x1="404.8" y1="413.4" x2="408.3" y2="413.4" stroke="#333" stroke-width="1"/>
<line x1="404.8" y1="392.4" x2="408.3" y2="392.4" stroke="#333" stroke-width="1"/>
<line x1="401.3" y1="371.4" x2="408.3" y2="371.4" stroke="#333" stroke-width="1"/>
<line x1="404.8" y1="350.4" x2="408.3" y2="350.4" stroke="#333" stroke-width="1"/>
<line x1="404.8" y1="329.4" x2="408.3" y2="329.4" stroke="#333" stroke-width="1"/>
<line x1="401.3" y1="308.4" x2="408.3" y2="308.4" stroke="#333" stroke-width="1"/>
<line x1="404.8" y1="287.4" x2="408.3" y2="287.4" stroke="#333" stroke-width="1"/>
<line x1="404.8" y1="266.4" x2="408.3" y2="266.4" stroke="#333" stroke-width="1"/>
<line x1="401.3" y1="245.39999999999998" x2="408.3" y2="245.39999999999998" stroke="#333" stroke-width="1"/>
<line x1="404.8" y1="224.39999999999998" x2="408.3" y2="224.39999999999998" stroke="#333" stroke-width="1"/>
<line x1="404.8" y1="203.39999999999998" x2="408.3" y2="203.39999999999998" stroke="#333" stroke-width="1"/>
<line x1="401.3" y1="182.39999999999998" x2="408.3" y2="182.39999999999998" stroke="#333" stroke-width="1"/>
<line x1="404.8" y1="161.39999999999998" x2="408.3" y2="161.39999999999998" stroke="#333" stroke-width="1"/>
<line x1="404.8" y1="140.39999999999998" x2="408.3" y2="140.39999999999998" stroke="#333" stroke-width="1"/>
<line x1="401.3" y1="119.39999999999998" x2="408.3" y2="119.39999999999998" stroke="#333" stroke-width="1"/>
<line x1="404.8" y1="98.39999999999998" x2="408.3" y2="98.39999999999998" stroke="#333" stroke-width="1"/>
<line x1="617.5" y1="402.9" x2="620.8" y2="402.9" stroke="#333" stroke-width="1"/>
<line x1="617.5" y1="387.15" x2="620.8" y2="387.15" stroke="#333" stroke-width="1"/>
<line x1="617.5" y1="371.4" x2="624.1" y2="371.4" stroke="#333" stroke-width="1"/>
<line x1="617.5" y1="355.65" x2="620.8" y2="355.65" stroke="#333" stroke-width="1"/>
<line x1="617.5" y1="339.9" x2="620.8" y2="339.9" stroke="#333" stroke-width="1"/>
<line x1="617.5" y1="324.15" x2="620.8" y2="324.15" stroke="#333" stroke-width="1"/>
<line x1="617.5" y1="308.4" x2="624.1" y2="308.4" stroke="#333" stroke-width="1"/>
<line x1="617.5" y1="292.65" x2="620.8" y2="292.65" stroke="#333" stroke-width="1"/>
<line x1="617.5" y1="276.9" x2="620.8" y2="276.9" stroke="#333" stroke-width="1"/>
<line x1="617.5" y1="261.15" x2="620.8" y2="261.15" stroke="#333" stroke-width="1"/>
<line x1="617.5" y1="245.39999999999998" x2="624.1" y2="245.39999999999998" stroke="#333" stroke-width="1"/>
<line x1="617.5" y1="229.64999999999998" x2="620.8" y2="229.64999999999998" stroke="#333" stroke-width="1"/>
<line x1="617.5" y1="213.89999999999998" x2="620.8" y2="213.89999999999998" stroke="#333" stroke-width="1"/>
<line x1="617.5" y1="198.14999999999998" x2="620.8" y2="198.14999999999998" stroke="#333" stroke-width="1"/>
<line x1="617.5" y1="182.39999999999998" x2="624.1" y2="182.39999999999998" stroke="#333" stroke-width="1"/>
<line x1="617.5" y1="166.64999999999998" x2="620.8" y2="166.64999999999998" stroke="#333" stroke-width="1"/>
<line x1="617.5" y1="150.89999999999998" x2="620.8" y2="150.89999999999998" stroke="#333" stroke-width="1"/>
<line x1="617.5" y1="135.14999999999998" x2="620.8" y2="135.14999999999998" stroke="#333" stroke-width="1"/>
<line x1="617.5" y1="119.39999999999998" x2="624.1" y2="119.39999999999998" stroke="#333" stroke-width="1"/>
<line x1="617.5" y1="103.64999999999998" x2="620.8" y2="103.64999999999998" stroke="#333" stroke-width="1"/>
<text x="387.5" y="126.29999999999998" font-size="19" text-anchor="end">9</text>
<text x="387.5" y="189.29999999999998" font-size="19" text-anchor="end">6</text>
<text x="387.5" y="252.29999999999998" font-size="19" text-anchor="end">3</text>
<text x="387.5" y="315.29999999999995" font-size="19" text-anchor="end">0</text>
<text x="387.5" y="378.29999999999995" font-size="19" text-anchor="end">-3</text>
<text x="638" y="126.2" font-size="19">6</text>
<text x="638" y="189.3" font-size="19">4</text>
<text x="638" y="252.3" font-size="19">2</text>
<text x="638" y="315.29999999999995" font-size="19">0</text>
<text x="638" y="378.29999999999995" font-size="19">2</text>
<line x1="477.8" y1="413.4" x2="477.8" y2="419.4" stroke="#333" stroke-width="1"/>
<line x1="547.2" y1="413.4" x2="547.2" y2="419.4" stroke="#333" stroke-width="1"/>
<text x="465.7" y="443.8" font-size="16.2" text-anchor="middle">LWA</text>
<text x="541.5" y="442.7" font-size="16.2" text-anchor="middle">LWA</text>
<text x="541.4" y="461" font-size="16.2" text-anchor="middle">Tendency</text>
<text x="510.5" y="53.4" font-size="16.5" text-anchor="middle">(d) Blocking-centered</text>
<text x="510.7" y="72.7" font-size="16.5" text-anchor="middle">LWA at onset (days -3 to -1)</text>
<rect x="449.90" y="167.8" width="14.05" height="140.60" fill="#000"/>
<rect x="463.90" y="175.9" width="14.05" height="132.50" fill="#cc3377"/>
<rect x="477.90" y="200.5" width="14.05" height="107.90" fill="#ffa500"/>
<rect x="491.90" y="255.0" width="14.05" height="53.40" fill="#228b22"/>
<g stroke="#d0d0d0" stroke-opacity="0.8" stroke-width="1"><line x1="456.9" y1="135.3" x2="456.9" y2="200.3"/><line x1="453.4" y1="135.3" x2="460.4" y2="135.3"/><line x1="453.4" y1="200.3" x2="460.4" y2="200.3"/></g>
<g stroke="#d0d0d0" stroke-opacity="0.8" stroke-width="1"><line x1="470.9" y1="133.4" x2="470.9" y2="218.3"/><line x1="467.4" y1="133.4" x2="474.4" y2="133.4"/><line x1="467.4" y1="218.3" x2="474.4" y2="218.3"/></g>
<g stroke="#d0d0d0" stroke-opacity="0.8" stroke-width="1"><line x1="484.9" y1="164.6" x2="484.9" y2="236.0"/><line x1="481.4" y1="164.6" x2="488.4" y2="164.6"/><line x1="481.4" y1="236.0" x2="488.4" y2="236.0"/></g>
<g stroke="#d0d0d0" stroke-opacity="0.8" stroke-width="1"><line x1="498.9" y1="237.4" x2="498.9" y2="273.3"/><line x1="495.4" y1="237.4" x2="502.4" y2="237.4"/><line x1="495.4" y1="273.3" x2="502.4" y2="273.3"/></g>
<rect x="519.60" y="220.2" width="14.05" height="88.20" fill="#000"/>
<rect x="533.60" y="224.8" width="14.05" height="83.60" fill="#cc3377"/>
<rect x="547.60" y="253.7" width="14.05" height="54.70" fill="#ffa500"/>
<rect x="561.60" y="288.1" width="14.05" height="20.30" fill="#228b22"/>
<g stroke="#d0d0d0" stroke-opacity="0.8" stroke-width="1"><line x1="526.6" y1="195.5" x2="526.6" y2="244.6"/><line x1="523.1" y1="195.5" x2="530.1" y2="195.5"/><line x1="523.1" y1="244.6" x2="530.1" y2="244.6"/></g>
<g stroke="#d0d0d0" stroke-opacity="0.8" stroke-width="1"><line x1="540.6" y1="180.0" x2="540.6" y2="270.1"/><line x1="537.1" y1="180.0" x2="544.1" y2="180.0"/><line x1="537.1" y1="270.1" x2="544.1" y2="270.1"/></g>
<g stroke="#d0d0d0" stroke-opacity="0.8" stroke-width="1"><line x1="554.6" y1="221.0" x2="554.6" y2="286.1"/><line x1="551.1" y1="221.0" x2="558.1" y2="221.0"/><line x1="551.1" y1="286.1" x2="558.1" y2="286.1"/></g>
<g stroke="#d0d0d0" stroke-opacity="0.8" stroke-width="1"><line x1="568.6" y1="273.5" x2="568.6" y2="303.3"/><line x1="565.1" y1="273.5" x2="572.1" y2="273.5"/><line x1="565.1" y1="303.3" x2="572.1" y2="303.3"/></g>
<text y="379.9" font-size="13.3" font-weight="bold"><tspan x="415.3" fill="#000">MERRA2,</tspan><tspan x="474.8" fill="#cc3377">CTL,</tspan><tspan x="507.8" fill="#ffa500">CLOCK,</tspan><tspan x="559.5" fill="#228b22">LWOFF</tspan></text>
<g transform="translate(358,294.6) rotate(-90)"><path d="M7.2,-15.2 L0.6,-5.2 L7.2,4.8" fill="none" stroke="#000" stroke-width="0.75"/><text x="9.3" y="0" font-size="18.5" font-family="Liberation Serif" font-style="italic">A</text><path d="M23.2,-15.2 L29.6,-5.2 L23.2,4.8" fill="none" stroke="#000" stroke-width="0.75"/><text x="41" y="-1.8" font-size="17.5">[m s<tspan dy="-6" font-size="12">-1</tspan><tspan dy="6">]</tspan></text></g>
<g transform="translate(679.3,339.5) rotate(-90)"><text x="-0.5" y="0" font-size="20.5" font-family="Liberation Serif" font-style="italic">d</text><path d="M20.3,-16.3 L15.8,-5.3 L20.3,5.7" fill="none" stroke="#000" stroke-width="0.8"/><text x="19.6" y="0" font-size="20.5" font-family="Liberation Serif" font-style="italic">A</text><path d="M33.6,-16.3 L40.3,-5.3 L33.6,5.7" fill="none" stroke="#000" stroke-width="0.8"/><path d="M41,5.5 L52.5,-16" fill="none" stroke="#000" stroke-width="0.9"/><text x="52.2" y="0" font-size="20.5" font-family="Liberation Serif" font-style="italic">dt</text><text x="84.5" y="-1.6" font-size="17.5">[m s<tspan dx="0.8" dy="-6" font-size="12">-1</tspan><tspan dy="6"> day</tspan><tspan dx="2.5" dy="-6" font-size="12">-1</tspan><tspan dx="0.5" dy="6">]</tspan></text></g>
</svg></body></html>
